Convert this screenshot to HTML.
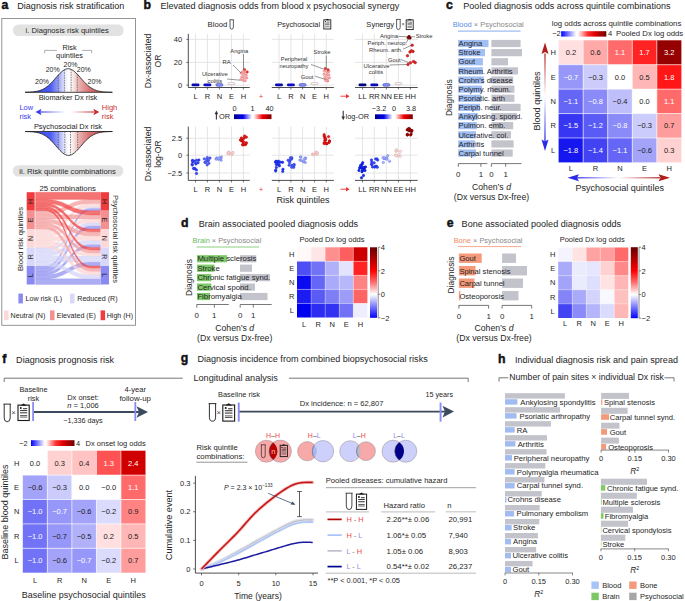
<!DOCTYPE html>
<html><head><meta charset="utf-8"><style>
html,body{margin:0;padding:0;background:#fff;}
body{width:685px;height:601px;overflow:hidden;}
svg{display:block;}
</style></head><body>
<svg width="685" height="601" viewBox="0 0 685 601" font-family='"Liberation Sans", sans-serif'>
<rect width="685" height="601" fill="#fff"/>
<text x="1.50" y="9.30" font-size="12.3" text-anchor="start" fill="#111" font-weight="bold" stroke="#111" stroke-width="0.45">a</text>
<text x="17.30" y="9.30" font-size="9.05" text-anchor="start" fill="#1e1e1e" font-weight="normal" >Diagnosis risk stratification</text>
<text x="143.60" y="9.30" font-size="12.3" text-anchor="start" fill="#111" font-weight="bold" stroke="#111" stroke-width="0.45">b</text>
<text x="160.40" y="9.30" font-size="9.05" text-anchor="start" fill="#1e1e1e" font-weight="normal" >Elevated diagnosis odds from blood x psychosocial synergy</text>
<text x="446.00" y="9.30" font-size="12.3" text-anchor="start" fill="#111" font-weight="bold" stroke="#111" stroke-width="0.45">c</text>
<text x="463.30" y="9.30" font-size="9.05" text-anchor="start" fill="#1e1e1e" font-weight="normal" >Pooled diagnosis odds across quintile combinations</text>
<text x="181.00" y="227.00" font-size="12.3" text-anchor="start" fill="#111" font-weight="bold" stroke="#111" stroke-width="0.45">d</text>
<text x="198.70" y="227.00" font-size="9.05" text-anchor="start" fill="#1e1e1e" font-weight="normal" >Brain associated pooled diagnosis odds</text>
<text x="446.80" y="226.60" font-size="12.3" text-anchor="start" fill="#111" font-weight="bold" stroke="#111" stroke-width="0.45">e</text>
<text x="461.60" y="226.60" font-size="9.05" text-anchor="start" fill="#1e1e1e" font-weight="normal" >Bone associated pooled diagnosis odds</text>
<text x="2.30" y="362.80" font-size="12.3" text-anchor="start" fill="#111" font-weight="bold" stroke="#111" stroke-width="0.45">f</text>
<text x="16.10" y="362.80" font-size="9.05" text-anchor="start" fill="#1e1e1e" font-weight="normal" >Diagnosis prognosis risk</text>
<text x="180.80" y="362.30" font-size="12.3" text-anchor="start" fill="#111" font-weight="bold" stroke="#111" stroke-width="0.45">g</text>
<text x="197.40" y="362.30" font-size="9.05" text-anchor="start" fill="#1e1e1e" font-weight="normal" >Diagnosis incidence from combined biopsychosocial risks</text>
<text x="498.00" y="362.70" font-size="12.3" text-anchor="start" fill="#111" font-weight="bold" stroke="#111" stroke-width="0.45">h</text>
<text x="515.00" y="362.70" font-size="9.05" text-anchor="start" fill="#1e1e1e" font-weight="normal" >Individual diagnosis risk and pain spread</text>
<rect x="1.8" y="18.5" width="133.7" height="306.8" fill="none" stroke="#8a8a8a" stroke-width="0.9"/>
<rect x="12.9" y="24.6" width="110.7" height="11.4" rx="5.5" fill="#e2e2e2"/>
<text x="67.20" y="33.20" font-size="7.6" text-anchor="middle" fill="#262626" font-weight="normal" >i. Diagnosis risk quintiles</text>
<text x="69.50" y="49.70" font-size="7.3" text-anchor="middle" fill="#262626" font-weight="normal" >Risk</text>
<text x="69.50" y="58.20" font-size="7.3" text-anchor="middle" fill="#262626" font-weight="normal" >quintiles</text>
<path d="M44.6,53.2 V50.4 H57 M82,50.4 H91.6 V53.2" fill="none" stroke="#999" stroke-width="0.8" />
<defs><linearGradient id="bellg" x1="25" x2="112.4" y1="0" y2="0" gradientUnits="userSpaceOnUse"><stop offset="0" stop-color="#3a4af2"/><stop offset="0.29" stop-color="#4a5af2"/><stop offset="0.38" stop-color="#9aa2f6"/><stop offset="0.45" stop-color="#e4e6fc"/><stop offset="0.5" stop-color="#ffffff"/><stop offset="0.55" stop-color="#f8eaea"/><stop offset="0.62" stop-color="#eab0b0"/><stop offset="0.74" stop-color="#d87272"/><stop offset="1" stop-color="#c83c3c"/></linearGradient><linearGradient id="arrb" x1="66" x2="36" y1="0" y2="0" gradientUnits="userSpaceOnUse"><stop offset="0" stop-color="#3b3bf0" stop-opacity="0"/><stop offset="1" stop-color="#3b3bf0"/></linearGradient><linearGradient id="arrr" x1="71" x2="99" y1="0" y2="0" gradientUnits="userSpaceOnUse"><stop offset="0" stop-color="#c82828" stop-opacity="0"/><stop offset="1" stop-color="#c82828"/></linearGradient></defs>
<path d="M25.00,92.24 L26.46,92.21 L27.91,92.17 L29.37,92.11 L30.83,92.03 L32.28,91.92 L33.74,91.77 L35.20,91.58 L36.65,91.32 L38.11,91.00 L39.57,90.59 L41.02,90.08 L42.48,89.46 L43.94,88.71 L45.39,87.83 L46.85,86.81 L48.31,85.65 L49.76,84.35 L51.22,82.92 L52.68,81.39 L54.13,79.77 L55.59,78.11 L57.05,76.45 L58.50,74.83 L59.96,73.31 L61.42,71.93 L62.87,70.75 L64.33,69.80 L65.79,69.14 L67.24,68.77 L68.70,68.72 L70.16,68.99 L71.61,69.56 L73.07,70.42 L74.53,71.54 L75.98,72.86 L77.44,74.34 L78.90,75.94 L80.35,77.59 L81.81,79.25 L83.27,80.89 L84.72,82.45 L86.18,83.91 L87.64,85.25 L89.09,86.46 L90.55,87.53 L92.01,88.45 L93.46,89.24 L94.92,89.90 L96.38,90.44 L97.83,90.88 L99.29,91.23 L100.75,91.50 L102.20,91.72 L103.66,91.88 L105.12,92.00 L106.57,92.09 L108.03,92.15 L109.49,92.20 L110.94,92.23 L112.40,92.25 Z" fill="url(#bellg)" stroke="none" stroke-width="0.8" />
<path d="M25.00,92.24 L26.46,92.21 L27.91,92.17 L29.37,92.11 L30.83,92.03 L32.28,91.92 L33.74,91.77 L35.20,91.58 L36.65,91.32 L38.11,91.00 L39.57,90.59 L41.02,90.08 L42.48,89.46 L43.94,88.71 L45.39,87.83 L46.85,86.81 L48.31,85.65 L49.76,84.35 L51.22,82.92 L52.68,81.39 L54.13,79.77 L55.59,78.11 L57.05,76.45 L58.50,74.83 L59.96,73.31 L61.42,71.93 L62.87,70.75 L64.33,69.80 L65.79,69.14 L67.24,68.77 L68.70,68.72 L70.16,68.99 L71.61,69.56 L73.07,70.42 L74.53,71.54 L75.98,72.86 L77.44,74.34 L78.90,75.94 L80.35,77.59 L81.81,79.25 L83.27,80.89 L84.72,82.45 L86.18,83.91 L87.64,85.25 L89.09,86.46 L90.55,87.53 L92.01,88.45 L93.46,89.24 L94.92,89.90 L96.38,90.44 L97.83,90.88 L99.29,91.23 L100.75,91.50 L102.20,91.72 L103.66,91.88 L105.12,92.00 L106.57,92.09 L108.03,92.15 L109.49,92.20 L110.94,92.23 L112.40,92.25" fill="none" stroke="#1a1a1a" stroke-width="0.8" />
<line x1="25.00" y1="92.30" x2="112.40" y2="92.30" stroke="#1a1a1a" stroke-width="0.8" />
<line x1="58.20" y1="75.16" x2="58.20" y2="92.30" stroke="#333" stroke-width="0.6" stroke-dasharray="1.5,1"/>
<line x1="64.40" y1="69.77" x2="64.40" y2="92.30" stroke="#333" stroke-width="0.6" stroke-dasharray="1.5,1"/>
<line x1="71.10" y1="69.33" x2="71.10" y2="92.30" stroke="#333" stroke-width="0.6" stroke-dasharray="1.5,1"/>
<line x1="77.30" y1="74.19" x2="77.30" y2="92.30" stroke="#333" stroke-width="0.6" stroke-dasharray="1.5,1"/>
<text x="42.00" y="84.40" font-size="7.0" text-anchor="middle" fill="#262626" font-weight="normal" >20%</text>
<text x="52.70" y="72.40" font-size="7.0" text-anchor="middle" fill="#262626" font-weight="normal" >20%</text>
<text x="70.50" y="67.00" font-size="7.0" text-anchor="middle" fill="#262626" font-weight="normal" >20%</text>
<text x="83.80" y="72.40" font-size="7.0" text-anchor="middle" fill="#262626" font-weight="normal" >20%</text>
<text x="94.50" y="84.40" font-size="7.0" text-anchor="middle" fill="#262626" font-weight="normal" >20%</text>
<text x="68.00" y="100.40" font-size="7.45" text-anchor="middle" fill="#262626" font-weight="normal" >Biomarker Dx risk</text>
<text x="19.40" y="110.00" font-size="7.5" text-anchor="start" fill="#3b3bf0" font-weight="normal" >Low</text>
<text x="19.40" y="118.80" font-size="7.5" text-anchor="start" fill="#3b3bf0" font-weight="normal" >risk</text>
<text x="101.80" y="110.00" font-size="7.5" text-anchor="start" fill="#c83030" font-weight="normal" >High</text>
<text x="101.80" y="118.80" font-size="7.5" text-anchor="start" fill="#c83030" font-weight="normal" >risk</text>
<line x1="40.00" y1="112.00" x2="66.00" y2="112.00" stroke="url(#arrb)" stroke-width="1.4" />
<path d="M35.5,112 L41.5,108.8 L40.2,112 L41.5,115.2 Z" fill="#3b3bf0" stroke="none" stroke-width="0.8" />
<line x1="71.00" y1="112.00" x2="94.00" y2="112.00" stroke="url(#arrr)" stroke-width="1.4" />
<path d="M99.3,112 L93.3,108.8 L94.6,112 L93.3,115.2 Z" fill="#c82828" stroke="none" stroke-width="0.8" />
<text x="68.00" y="129.00" font-size="7.45" text-anchor="middle" fill="#262626" font-weight="normal" >Psychosocial Dx risk</text>
<path d="M25.00,131.56 L26.46,131.58 L27.91,131.62 L29.37,131.68 L30.83,131.75 L32.28,131.86 L33.74,132.00 L35.20,132.19 L36.65,132.43 L38.11,132.74 L39.57,133.14 L41.02,133.63 L42.48,134.24 L43.94,134.97 L45.39,135.83 L46.85,136.83 L48.31,137.98 L49.76,139.27 L51.22,140.69 L52.68,142.23 L54.13,143.85 L55.59,145.52 L57.05,147.21 L58.50,148.86 L59.96,150.43 L61.42,151.85 L62.87,153.10 L64.33,154.11 L65.79,154.84 L67.24,155.28 L68.70,155.40 L70.16,155.19 L71.61,154.67 L73.07,153.85 L74.53,152.78 L75.98,151.48 L77.44,150.01 L78.90,148.41 L80.35,146.75 L81.81,145.06 L83.27,143.39 L84.72,141.79 L86.18,140.29 L87.64,138.90 L89.09,137.65 L90.55,136.54 L92.01,135.58 L93.46,134.75 L94.92,134.06 L96.38,133.49 L97.83,133.02 L99.29,132.65 L100.75,132.36 L102.20,132.13 L103.66,131.96 L105.12,131.83 L106.57,131.73 L108.03,131.66 L109.49,131.61 L110.94,131.57 L112.40,131.55 Z" fill="url(#bellg)" stroke="none" stroke-width="0.8" />
<path d="M25.00,131.56 L26.46,131.58 L27.91,131.62 L29.37,131.68 L30.83,131.75 L32.28,131.86 L33.74,132.00 L35.20,132.19 L36.65,132.43 L38.11,132.74 L39.57,133.14 L41.02,133.63 L42.48,134.24 L43.94,134.97 L45.39,135.83 L46.85,136.83 L48.31,137.98 L49.76,139.27 L51.22,140.69 L52.68,142.23 L54.13,143.85 L55.59,145.52 L57.05,147.21 L58.50,148.86 L59.96,150.43 L61.42,151.85 L62.87,153.10 L64.33,154.11 L65.79,154.84 L67.24,155.28 L68.70,155.40 L70.16,155.19 L71.61,154.67 L73.07,153.85 L74.53,152.78 L75.98,151.48 L77.44,150.01 L78.90,148.41 L80.35,146.75 L81.81,145.06 L83.27,143.39 L84.72,141.79 L86.18,140.29 L87.64,138.90 L89.09,137.65 L90.55,136.54 L92.01,135.58 L93.46,134.75 L94.92,134.06 L96.38,133.49 L97.83,133.02 L99.29,132.65 L100.75,132.36 L102.20,132.13 L103.66,131.96 L105.12,131.83 L106.57,131.73 L108.03,131.66 L109.49,131.61 L110.94,131.57 L112.40,131.55" fill="none" stroke="#1a1a1a" stroke-width="0.8" />
<line x1="25.00" y1="131.50" x2="112.40" y2="131.50" stroke="#1a1a1a" stroke-width="0.8" />
<line x1="58.20" y1="131.50" x2="58.20" y2="148.52" stroke="#333" stroke-width="0.6" stroke-dasharray="1.5,1"/>
<line x1="64.80" y1="131.50" x2="64.80" y2="154.38" stroke="#333" stroke-width="0.6" stroke-dasharray="1.5,1"/>
<line x1="70.50" y1="131.50" x2="70.50" y2="155.10" stroke="#333" stroke-width="0.6" stroke-dasharray="1.5,1"/>
<line x1="77.70" y1="131.50" x2="77.70" y2="149.73" stroke="#333" stroke-width="0.6" stroke-dasharray="1.5,1"/>
<rect x="12.9" y="165.2" width="110.4" height="11.3" rx="5.5" fill="#e2e2e2"/>
<text x="67.60" y="173.80" font-size="7.7" text-anchor="middle" fill="#262626" font-weight="normal" >ii. Risk quintile combinations</text>
<text x="67.60" y="190.50" font-size="7.75" text-anchor="middle" fill="#262626" font-weight="normal" >25 combinations</text>
<path d="M35.6,266.04 L45.0,266.04 C68.0,266.04 68.0,208.23 91.0,208.23 L100.4,208.23 L100.4,210.66 L91.0,210.66 C68.0,210.66 68.0,268.47 45.0,268.47 L35.6,268.47 Z" fill="#8e8ef0" stroke="#8e8ef0" stroke-width="0.35" fill-opacity="0.72" stroke-opacity="0.72"/>
<path d="M35.6,268.47 L45.0,268.47 C68.0,268.47 68.0,225.65 91.0,225.65 L100.4,225.65 L100.4,229.12 L91.0,229.12 C68.0,229.12 68.0,271.94 45.0,271.94 L35.6,271.94 Z" fill="#8e8ef0" stroke="#8e8ef0" stroke-width="0.35" fill-opacity="0.72" stroke-opacity="0.72"/>
<path d="M35.6,271.94 L45.0,271.94 C68.0,271.94 68.0,244.59 91.0,244.59 L100.4,244.59 L100.4,247.58 L91.0,247.58 C68.0,247.58 68.0,274.93 45.0,274.93 L35.6,274.93 Z" fill="#8e8ef0" stroke="#8e8ef0" stroke-width="0.35" fill-opacity="0.72" stroke-opacity="0.72"/>
<path d="M35.6,274.93 L45.0,274.93 C68.0,274.93 68.0,262.12 91.0,262.12 L100.4,262.12 L100.4,266.04 L91.0,266.04 C68.0,266.04 68.0,278.85 45.0,278.85 L35.6,278.85 Z" fill="#8e8ef0" stroke="#8e8ef0" stroke-width="0.35" fill-opacity="0.72" stroke-opacity="0.72"/>
<path d="M35.6,278.85 L45.0,278.85 C68.0,278.85 68.0,278.85 91.0,278.85 L100.4,278.85 L100.4,284.50 L91.0,284.50 C68.0,284.50 68.0,284.50 45.0,284.50 L35.6,284.50 Z" fill="#8e8ef0" stroke="#8e8ef0" stroke-width="0.35" fill-opacity="0.72" stroke-opacity="0.72"/>
<path d="M35.6,247.58 L45.0,247.58 C68.0,247.58 68.0,207.16 91.0,207.16 L100.4,207.16 L100.4,208.23 L91.0,208.23 C68.0,208.23 68.0,248.65 45.0,248.65 L35.6,248.65 Z" fill="#d2d2f8" stroke="#d2d2f8" stroke-width="0.35" fill-opacity="0.72" stroke-opacity="0.72"/>
<path d="M35.6,248.65 L45.0,248.65 C68.0,248.65 68.0,222.73 91.0,222.73 L100.4,222.73 L100.4,225.65 L91.0,225.65 C68.0,225.65 68.0,251.56 45.0,251.56 L35.6,251.56 Z" fill="#d2d2f8" stroke="#d2d2f8" stroke-width="0.35" fill-opacity="0.72" stroke-opacity="0.72"/>
<path d="M35.6,251.56 L45.0,251.56 C68.0,251.56 68.0,240.37 91.0,240.37 L100.4,240.37 L100.4,244.59 L91.0,244.59 C68.0,244.59 68.0,255.78 45.0,255.78 L35.6,255.78 Z" fill="#d2d2f8" stroke="#d2d2f8" stroke-width="0.35" fill-opacity="0.72" stroke-opacity="0.72"/>
<path d="M35.6,255.78 L45.0,255.78 C68.0,255.78 68.0,256.00 91.0,256.00 L100.4,256.00 L100.4,262.12 L91.0,262.12 C68.0,262.12 68.0,261.91 45.0,261.91 L35.6,261.91 Z" fill="#d2d2f8" stroke="#d2d2f8" stroke-width="0.35" fill-opacity="0.72" stroke-opacity="0.72"/>
<path d="M35.6,261.91 L45.0,261.91 C68.0,261.91 68.0,274.72 91.0,274.72 L100.4,274.72 L100.4,278.85 L91.0,278.85 C68.0,278.85 68.0,266.04 45.0,266.04 L35.6,266.04 Z" fill="#d2d2f8" stroke="#d2d2f8" stroke-width="0.35" fill-opacity="0.72" stroke-opacity="0.72"/>
<path d="M35.6,229.12 L45.0,229.12 C68.0,229.12 68.0,203.51 91.0,203.51 L100.4,203.51 L100.4,207.16 L91.0,207.16 C68.0,207.16 68.0,232.77 45.0,232.77 L35.6,232.77 Z" fill="#fbd2d2" stroke="#fbd2d2" stroke-width="0.35" fill-opacity="0.72" stroke-opacity="0.72"/>
<path d="M35.6,232.77 L45.0,232.77 C68.0,232.77 68.0,218.99 91.0,218.99 L100.4,218.99 L100.4,222.73 L91.0,222.73 C68.0,222.73 68.0,236.51 45.0,236.51 L35.6,236.51 Z" fill="#fbd2d2" stroke="#fbd2d2" stroke-width="0.35" fill-opacity="0.72" stroke-opacity="0.72"/>
<path d="M35.6,236.51 L45.0,236.51 C68.0,236.51 68.0,235.84 91.0,235.84 L100.4,235.84 L100.4,240.37 L91.0,240.37 C68.0,240.37 68.0,241.04 45.0,241.04 L35.6,241.04 Z" fill="#fbd2d2" stroke="#fbd2d2" stroke-width="0.35" fill-opacity="0.72" stroke-opacity="0.72"/>
<path d="M35.6,241.04 L45.0,241.04 C68.0,241.04 68.0,253.00 91.0,253.00 L100.4,253.00 L100.4,256.00 L91.0,256.00 C68.0,256.00 68.0,244.04 45.0,244.04 L35.6,244.04 Z" fill="#fbd2d2" stroke="#fbd2d2" stroke-width="0.35" fill-opacity="0.72" stroke-opacity="0.72"/>
<path d="M35.6,244.04 L45.0,244.04 C68.0,244.04 68.0,271.18 91.0,271.18 L100.4,271.18 L100.4,274.72 L91.0,274.72 C68.0,274.72 68.0,247.58 45.0,247.58 L35.6,247.58 Z" fill="#fbd2d2" stroke="#fbd2d2" stroke-width="0.35" fill-opacity="0.72" stroke-opacity="0.72"/>
<path d="M35.6,210.66 L45.0,210.66 C68.0,210.66 68.0,199.38 91.0,199.38 L100.4,199.38 L100.4,203.51 L91.0,203.51 C68.0,203.51 68.0,214.79 45.0,214.79 L35.6,214.79 Z" fill="#f49a9a" stroke="#f49a9a" stroke-width="0.35" fill-opacity="0.72" stroke-opacity="0.72"/>
<path d="M35.6,214.79 L45.0,214.79 C68.0,214.79 68.0,214.90 91.0,214.90 L100.4,214.90 L100.4,218.99 L91.0,218.99 C68.0,218.99 68.0,218.89 45.0,218.89 L35.6,218.89 Z" fill="#f49a9a" stroke="#f49a9a" stroke-width="0.35" fill-opacity="0.72" stroke-opacity="0.72"/>
<path d="M35.6,218.89 L45.0,218.89 C68.0,218.89 68.0,231.81 91.0,231.81 L100.4,231.81 L100.4,235.84 L91.0,235.84 C68.0,235.84 68.0,222.91 45.0,222.91 L35.6,222.91 Z" fill="#f49a9a" stroke="#f49a9a" stroke-width="0.35" fill-opacity="0.72" stroke-opacity="0.72"/>
<path d="M35.6,222.91 L45.0,222.91 C68.0,222.91 68.0,249.93 91.0,249.93 L100.4,249.93 L100.4,253.00 L91.0,253.00 C68.0,253.00 68.0,225.98 45.0,225.98 L35.6,225.98 Z" fill="#f49a9a" stroke="#f49a9a" stroke-width="0.35" fill-opacity="0.72" stroke-opacity="0.72"/>
<path d="M35.6,225.98 L45.0,225.98 C68.0,225.98 68.0,268.04 91.0,268.04 L100.4,268.04 L100.4,271.18 L91.0,271.18 C68.0,271.18 68.0,229.12 45.0,229.12 L35.6,229.12 Z" fill="#f49a9a" stroke="#f49a9a" stroke-width="0.35" fill-opacity="0.72" stroke-opacity="0.72"/>
<path d="M35.6,192.20 L45.0,192.20 C68.0,192.20 68.0,192.20 91.0,192.20 L100.4,192.20 L100.4,199.38 L91.0,199.38 C68.0,199.38 68.0,199.38 45.0,199.38 L35.6,199.38 Z" fill="#f03e3e" stroke="#f03e3e" stroke-width="0.35" fill-opacity="0.72" stroke-opacity="0.72"/>
<path d="M35.6,199.38 L45.0,199.38 C68.0,199.38 68.0,210.66 91.0,210.66 L100.4,210.66 L100.4,214.90 L91.0,214.90 C68.0,214.90 68.0,203.61 45.0,203.61 L35.6,203.61 Z" fill="#f03e3e" stroke="#f03e3e" stroke-width="0.35" fill-opacity="0.72" stroke-opacity="0.72"/>
<path d="M35.6,203.61 L45.0,203.61 C68.0,203.61 68.0,229.12 91.0,229.12 L100.4,229.12 L100.4,231.81 L91.0,231.81 C68.0,231.81 68.0,206.31 45.0,206.31 L35.6,206.31 Z" fill="#f03e3e" stroke="#f03e3e" stroke-width="0.35" fill-opacity="0.72" stroke-opacity="0.72"/>
<path d="M35.6,206.31 L45.0,206.31 C68.0,206.31 68.0,247.58 91.0,247.58 L100.4,247.58 L100.4,249.93 L91.0,249.93 C68.0,249.93 68.0,208.66 45.0,208.66 L35.6,208.66 Z" fill="#f03e3e" stroke="#f03e3e" stroke-width="0.35" fill-opacity="0.72" stroke-opacity="0.72"/>
<path d="M35.6,208.66 L45.0,208.66 C68.0,208.66 68.0,266.04 91.0,266.04 L100.4,266.04 L100.4,268.04 L91.0,268.04 C68.0,268.04 68.0,210.66 45.0,210.66 L35.6,210.66 Z" fill="#f03e3e" stroke="#f03e3e" stroke-width="0.35" fill-opacity="0.72" stroke-opacity="0.72"/>
<rect x="26.70" y="192.20" width="8.00" height="18.46" fill="#f03c3c" />
<rect x="100.70" y="192.20" width="8.30" height="18.46" fill="#f03c3c" />
<text x="30.70" y="201.43" font-size="7.0" text-anchor="middle" fill="#262626" font-weight="normal" transform="rotate(-90 30.7 201.43)" dy="2.5">H</text>
<text x="104.85" y="201.43" font-size="7.0" text-anchor="middle" fill="#262626" font-weight="normal" transform="rotate(90 104.85 201.43)" dy="2.5">H</text>
<rect x="26.70" y="210.66" width="8.00" height="18.46" fill="#f49090" />
<rect x="100.70" y="210.66" width="8.30" height="18.46" fill="#f49090" />
<text x="30.70" y="219.89" font-size="7.0" text-anchor="middle" fill="#262626" font-weight="normal" transform="rotate(-90 30.7 219.89)" dy="2.5">E</text>
<text x="104.85" y="219.89" font-size="7.0" text-anchor="middle" fill="#262626" font-weight="normal" transform="rotate(90 104.85 219.89)" dy="2.5">E</text>
<rect x="26.70" y="229.12" width="8.00" height="18.46" fill="#fcd8d8" />
<rect x="100.70" y="229.12" width="8.30" height="18.46" fill="#fcd8d8" />
<text x="30.70" y="238.35" font-size="7.0" text-anchor="middle" fill="#262626" font-weight="normal" transform="rotate(-90 30.7 238.35)" dy="2.5">N</text>
<text x="104.85" y="238.35" font-size="7.0" text-anchor="middle" fill="#262626" font-weight="normal" transform="rotate(90 104.85 238.35)" dy="2.5">N</text>
<rect x="26.70" y="247.58" width="8.00" height="18.46" fill="#d8d8fa" />
<rect x="100.70" y="247.58" width="8.30" height="18.46" fill="#d8d8fa" />
<text x="30.70" y="256.81" font-size="7.0" text-anchor="middle" fill="#262626" font-weight="normal" transform="rotate(-90 30.7 256.81)" dy="2.5">R</text>
<text x="104.85" y="256.81" font-size="7.0" text-anchor="middle" fill="#262626" font-weight="normal" transform="rotate(90 104.85 256.81)" dy="2.5">R</text>
<rect x="26.70" y="266.04" width="8.00" height="18.46" fill="#8a8af2" />
<rect x="100.70" y="266.04" width="8.30" height="18.46" fill="#8a8af2" />
<text x="30.70" y="275.27" font-size="7.0" text-anchor="middle" fill="#262626" font-weight="normal" transform="rotate(-90 30.7 275.27)" dy="2.5">L</text>
<text x="104.85" y="275.27" font-size="7.0" text-anchor="middle" fill="#262626" font-weight="normal" transform="rotate(90 104.85 275.27)" dy="2.5">L</text>
<text x="20.40" y="239.00" font-size="7.7" text-anchor="middle" fill="#262626" font-weight="normal" transform="rotate(-90 20.4 239)" dy="2.6">Blood risk quintiles</text>
<text x="115.30" y="239.00" font-size="7.6" text-anchor="middle" fill="#262626" font-weight="normal" transform="rotate(90 115.3 239)" dy="2.6">Psychosocial risk quintiles</text>
<rect x="18.40" y="293.60" width="4.50" height="9.80" fill="#8a8af2" />
<text x="25.50" y="301.20" font-size="7.1" text-anchor="start" fill="#262626" font-weight="normal" >Low risk (L)</text>
<rect x="70.00" y="293.60" width="4.50" height="9.80" fill="#d8d8fa" />
<text x="77.30" y="301.20" font-size="7.1" text-anchor="start" fill="#262626" font-weight="normal" >Reduced (R)</text>
<rect x="4.00" y="310.40" width="4.50" height="9.80" fill="#fcd8d8" />
<text x="10.60" y="318.00" font-size="7.1" text-anchor="start" fill="#262626" font-weight="normal" >Neutral (N)</text>
<rect x="50.00" y="310.40" width="4.50" height="9.80" fill="#f49090" />
<text x="56.80" y="318.00" font-size="7.1" text-anchor="start" fill="#262626" font-weight="normal" >Elevated (E)</text>
<rect x="100.60" y="310.40" width="4.50" height="9.80" fill="#f03c3c" />
<text x="106.70" y="318.00" font-size="7.1" text-anchor="start" fill="#262626" font-weight="normal" >High (H)</text>
<line x1="188.30" y1="39.40" x2="249.80" y2="39.40" stroke="#dedede" stroke-width="0.8" />
<line x1="188.30" y1="62.40" x2="249.80" y2="62.40" stroke="#dedede" stroke-width="0.8" />
<line x1="188.30" y1="85.10" x2="249.80" y2="85.10" stroke="#dedede" stroke-width="0.8" />
<line x1="195.50" y1="33.80" x2="195.50" y2="87.50" stroke="#dedede" stroke-width="0.8" />
<line x1="207.40" y1="33.80" x2="207.40" y2="87.50" stroke="#dedede" stroke-width="0.8" />
<line x1="219.40" y1="33.80" x2="219.40" y2="87.50" stroke="#dedede" stroke-width="0.8" />
<line x1="231.50" y1="33.80" x2="231.50" y2="87.50" stroke="#dedede" stroke-width="0.8" />
<line x1="243.40" y1="33.80" x2="243.40" y2="87.50" stroke="#dedede" stroke-width="0.8" />
<line x1="188.30" y1="87.50" x2="249.80" y2="87.50" stroke="#3a3a3a" stroke-width="0.9" />
<line x1="195.50" y1="87.50" x2="195.50" y2="89.50" stroke="#3a3a3a" stroke-width="0.7" />
<line x1="207.40" y1="87.50" x2="207.40" y2="89.50" stroke="#3a3a3a" stroke-width="0.7" />
<line x1="219.40" y1="87.50" x2="219.40" y2="89.50" stroke="#3a3a3a" stroke-width="0.7" />
<line x1="231.50" y1="87.50" x2="231.50" y2="89.50" stroke="#3a3a3a" stroke-width="0.7" />
<line x1="243.40" y1="87.50" x2="243.40" y2="89.50" stroke="#3a3a3a" stroke-width="0.7" />
<line x1="188.30" y1="33.80" x2="188.30" y2="87.50" stroke="#3a3a3a" stroke-width="0.9" />
<line x1="186.30" y1="39.40" x2="188.30" y2="39.40" stroke="#3a3a3a" stroke-width="0.7" />
<line x1="186.30" y1="62.40" x2="188.30" y2="62.40" stroke="#3a3a3a" stroke-width="0.7" />
<line x1="186.30" y1="85.10" x2="188.30" y2="85.10" stroke="#3a3a3a" stroke-width="0.7" />
<line x1="188.30" y1="138.20" x2="249.80" y2="138.20" stroke="#dedede" stroke-width="0.8" />
<line x1="188.30" y1="155.20" x2="249.80" y2="155.20" stroke="#dedede" stroke-width="0.8" />
<line x1="188.30" y1="173.00" x2="249.80" y2="173.00" stroke="#dedede" stroke-width="0.8" />
<line x1="195.50" y1="126.60" x2="195.50" y2="180.40" stroke="#dedede" stroke-width="0.8" />
<line x1="207.40" y1="126.60" x2="207.40" y2="180.40" stroke="#dedede" stroke-width="0.8" />
<line x1="219.40" y1="126.60" x2="219.40" y2="180.40" stroke="#dedede" stroke-width="0.8" />
<line x1="231.50" y1="126.60" x2="231.50" y2="180.40" stroke="#dedede" stroke-width="0.8" />
<line x1="243.40" y1="126.60" x2="243.40" y2="180.40" stroke="#dedede" stroke-width="0.8" />
<line x1="188.30" y1="180.40" x2="249.80" y2="180.40" stroke="#3a3a3a" stroke-width="0.9" />
<line x1="195.50" y1="180.40" x2="195.50" y2="182.40" stroke="#3a3a3a" stroke-width="0.7" />
<line x1="207.40" y1="180.40" x2="207.40" y2="182.40" stroke="#3a3a3a" stroke-width="0.7" />
<line x1="219.40" y1="180.40" x2="219.40" y2="182.40" stroke="#3a3a3a" stroke-width="0.7" />
<line x1="231.50" y1="180.40" x2="231.50" y2="182.40" stroke="#3a3a3a" stroke-width="0.7" />
<line x1="243.40" y1="180.40" x2="243.40" y2="182.40" stroke="#3a3a3a" stroke-width="0.7" />
<line x1="188.30" y1="126.60" x2="188.30" y2="180.40" stroke="#3a3a3a" stroke-width="0.9" />
<line x1="186.30" y1="138.20" x2="188.30" y2="138.20" stroke="#3a3a3a" stroke-width="0.7" />
<line x1="186.30" y1="155.20" x2="188.30" y2="155.20" stroke="#3a3a3a" stroke-width="0.7" />
<line x1="186.30" y1="173.00" x2="188.30" y2="173.00" stroke="#3a3a3a" stroke-width="0.7" />
<text x="195.50" y="99.00" font-size="7.5" text-anchor="middle" fill="#262626" font-weight="normal" >L</text>
<text x="195.50" y="192.00" font-size="7.5" text-anchor="middle" fill="#262626" font-weight="normal" >L</text>
<text x="207.40" y="99.00" font-size="7.5" text-anchor="middle" fill="#262626" font-weight="normal" >R</text>
<text x="207.40" y="192.00" font-size="7.5" text-anchor="middle" fill="#262626" font-weight="normal" >R</text>
<text x="219.40" y="99.00" font-size="7.5" text-anchor="middle" fill="#262626" font-weight="normal" >N</text>
<text x="219.40" y="192.00" font-size="7.5" text-anchor="middle" fill="#262626" font-weight="normal" >N</text>
<text x="231.50" y="99.00" font-size="7.5" text-anchor="middle" fill="#262626" font-weight="normal" >E</text>
<text x="231.50" y="192.00" font-size="7.5" text-anchor="middle" fill="#262626" font-weight="normal" >E</text>
<text x="243.40" y="99.00" font-size="7.5" text-anchor="middle" fill="#262626" font-weight="normal" >H</text>
<text x="243.40" y="192.00" font-size="7.5" text-anchor="middle" fill="#262626" font-weight="normal" >H</text>
<line x1="271.80" y1="39.40" x2="333.90" y2="39.40" stroke="#dedede" stroke-width="0.8" />
<line x1="271.80" y1="62.40" x2="333.90" y2="62.40" stroke="#dedede" stroke-width="0.8" />
<line x1="271.80" y1="85.10" x2="333.90" y2="85.10" stroke="#dedede" stroke-width="0.8" />
<line x1="279.00" y1="33.80" x2="279.00" y2="87.50" stroke="#dedede" stroke-width="0.8" />
<line x1="290.90" y1="33.80" x2="290.90" y2="87.50" stroke="#dedede" stroke-width="0.8" />
<line x1="302.60" y1="33.80" x2="302.60" y2="87.50" stroke="#dedede" stroke-width="0.8" />
<line x1="314.60" y1="33.80" x2="314.60" y2="87.50" stroke="#dedede" stroke-width="0.8" />
<line x1="326.30" y1="33.80" x2="326.30" y2="87.50" stroke="#dedede" stroke-width="0.8" />
<line x1="271.80" y1="87.50" x2="333.90" y2="87.50" stroke="#3a3a3a" stroke-width="0.9" />
<line x1="279.00" y1="87.50" x2="279.00" y2="89.50" stroke="#3a3a3a" stroke-width="0.7" />
<line x1="290.90" y1="87.50" x2="290.90" y2="89.50" stroke="#3a3a3a" stroke-width="0.7" />
<line x1="302.60" y1="87.50" x2="302.60" y2="89.50" stroke="#3a3a3a" stroke-width="0.7" />
<line x1="314.60" y1="87.50" x2="314.60" y2="89.50" stroke="#3a3a3a" stroke-width="0.7" />
<line x1="326.30" y1="87.50" x2="326.30" y2="89.50" stroke="#3a3a3a" stroke-width="0.7" />
<line x1="271.80" y1="138.20" x2="333.90" y2="138.20" stroke="#dedede" stroke-width="0.8" />
<line x1="271.80" y1="155.20" x2="333.90" y2="155.20" stroke="#dedede" stroke-width="0.8" />
<line x1="271.80" y1="173.00" x2="333.90" y2="173.00" stroke="#dedede" stroke-width="0.8" />
<line x1="279.00" y1="126.60" x2="279.00" y2="180.40" stroke="#dedede" stroke-width="0.8" />
<line x1="290.90" y1="126.60" x2="290.90" y2="180.40" stroke="#dedede" stroke-width="0.8" />
<line x1="302.60" y1="126.60" x2="302.60" y2="180.40" stroke="#dedede" stroke-width="0.8" />
<line x1="314.60" y1="126.60" x2="314.60" y2="180.40" stroke="#dedede" stroke-width="0.8" />
<line x1="326.30" y1="126.60" x2="326.30" y2="180.40" stroke="#dedede" stroke-width="0.8" />
<line x1="271.80" y1="180.40" x2="333.90" y2="180.40" stroke="#3a3a3a" stroke-width="0.9" />
<line x1="279.00" y1="180.40" x2="279.00" y2="182.40" stroke="#3a3a3a" stroke-width="0.7" />
<line x1="290.90" y1="180.40" x2="290.90" y2="182.40" stroke="#3a3a3a" stroke-width="0.7" />
<line x1="302.60" y1="180.40" x2="302.60" y2="182.40" stroke="#3a3a3a" stroke-width="0.7" />
<line x1="314.60" y1="180.40" x2="314.60" y2="182.40" stroke="#3a3a3a" stroke-width="0.7" />
<line x1="326.30" y1="180.40" x2="326.30" y2="182.40" stroke="#3a3a3a" stroke-width="0.7" />
<text x="279.00" y="99.00" font-size="7.5" text-anchor="middle" fill="#262626" font-weight="normal" >L</text>
<text x="279.00" y="192.00" font-size="7.5" text-anchor="middle" fill="#262626" font-weight="normal" >L</text>
<text x="290.90" y="99.00" font-size="7.5" text-anchor="middle" fill="#262626" font-weight="normal" >R</text>
<text x="290.90" y="192.00" font-size="7.5" text-anchor="middle" fill="#262626" font-weight="normal" >R</text>
<text x="302.60" y="99.00" font-size="7.5" text-anchor="middle" fill="#262626" font-weight="normal" >N</text>
<text x="302.60" y="192.00" font-size="7.5" text-anchor="middle" fill="#262626" font-weight="normal" >N</text>
<text x="314.60" y="99.00" font-size="7.5" text-anchor="middle" fill="#262626" font-weight="normal" >E</text>
<text x="314.60" y="192.00" font-size="7.5" text-anchor="middle" fill="#262626" font-weight="normal" >E</text>
<text x="326.30" y="99.00" font-size="7.5" text-anchor="middle" fill="#262626" font-weight="normal" >H</text>
<text x="326.30" y="192.00" font-size="7.5" text-anchor="middle" fill="#262626" font-weight="normal" >H</text>
<line x1="355.00" y1="39.40" x2="417.70" y2="39.40" stroke="#dedede" stroke-width="0.8" />
<line x1="355.00" y1="62.40" x2="417.70" y2="62.40" stroke="#dedede" stroke-width="0.8" />
<line x1="355.00" y1="85.10" x2="417.70" y2="85.10" stroke="#dedede" stroke-width="0.8" />
<line x1="362.50" y1="33.80" x2="362.50" y2="87.50" stroke="#dedede" stroke-width="0.8" />
<line x1="374.30" y1="33.80" x2="374.30" y2="87.50" stroke="#dedede" stroke-width="0.8" />
<line x1="386.40" y1="33.80" x2="386.40" y2="87.50" stroke="#dedede" stroke-width="0.8" />
<line x1="398.40" y1="33.80" x2="398.40" y2="87.50" stroke="#dedede" stroke-width="0.8" />
<line x1="410.40" y1="33.80" x2="410.40" y2="87.50" stroke="#dedede" stroke-width="0.8" />
<line x1="355.00" y1="87.50" x2="417.70" y2="87.50" stroke="#3a3a3a" stroke-width="0.9" />
<line x1="362.50" y1="87.50" x2="362.50" y2="89.50" stroke="#3a3a3a" stroke-width="0.7" />
<line x1="374.30" y1="87.50" x2="374.30" y2="89.50" stroke="#3a3a3a" stroke-width="0.7" />
<line x1="386.40" y1="87.50" x2="386.40" y2="89.50" stroke="#3a3a3a" stroke-width="0.7" />
<line x1="398.40" y1="87.50" x2="398.40" y2="89.50" stroke="#3a3a3a" stroke-width="0.7" />
<line x1="410.40" y1="87.50" x2="410.40" y2="89.50" stroke="#3a3a3a" stroke-width="0.7" />
<line x1="355.00" y1="138.20" x2="417.70" y2="138.20" stroke="#dedede" stroke-width="0.8" />
<line x1="355.00" y1="155.20" x2="417.70" y2="155.20" stroke="#dedede" stroke-width="0.8" />
<line x1="355.00" y1="173.00" x2="417.70" y2="173.00" stroke="#dedede" stroke-width="0.8" />
<line x1="362.50" y1="126.60" x2="362.50" y2="180.40" stroke="#dedede" stroke-width="0.8" />
<line x1="374.30" y1="126.60" x2="374.30" y2="180.40" stroke="#dedede" stroke-width="0.8" />
<line x1="386.40" y1="126.60" x2="386.40" y2="180.40" stroke="#dedede" stroke-width="0.8" />
<line x1="398.40" y1="126.60" x2="398.40" y2="180.40" stroke="#dedede" stroke-width="0.8" />
<line x1="410.40" y1="126.60" x2="410.40" y2="180.40" stroke="#dedede" stroke-width="0.8" />
<line x1="355.00" y1="180.40" x2="417.70" y2="180.40" stroke="#3a3a3a" stroke-width="0.9" />
<line x1="362.50" y1="180.40" x2="362.50" y2="182.40" stroke="#3a3a3a" stroke-width="0.7" />
<line x1="374.30" y1="180.40" x2="374.30" y2="182.40" stroke="#3a3a3a" stroke-width="0.7" />
<line x1="386.40" y1="180.40" x2="386.40" y2="182.40" stroke="#3a3a3a" stroke-width="0.7" />
<line x1="398.40" y1="180.40" x2="398.40" y2="182.40" stroke="#3a3a3a" stroke-width="0.7" />
<line x1="410.40" y1="180.40" x2="410.40" y2="182.40" stroke="#3a3a3a" stroke-width="0.7" />
<text x="362.50" y="99.00" font-size="7.5" text-anchor="middle" fill="#262626" font-weight="normal" >LL</text>
<text x="362.50" y="192.00" font-size="7.5" text-anchor="middle" fill="#262626" font-weight="normal" >LL</text>
<text x="374.30" y="99.00" font-size="7.5" text-anchor="middle" fill="#262626" font-weight="normal" >RR</text>
<text x="374.30" y="192.00" font-size="7.5" text-anchor="middle" fill="#262626" font-weight="normal" >RR</text>
<text x="386.40" y="99.00" font-size="7.5" text-anchor="middle" fill="#262626" font-weight="normal" >NN</text>
<text x="386.40" y="192.00" font-size="7.5" text-anchor="middle" fill="#262626" font-weight="normal" >NN</text>
<text x="398.40" y="99.00" font-size="7.5" text-anchor="middle" fill="#262626" font-weight="normal" >EE</text>
<text x="398.40" y="192.00" font-size="7.5" text-anchor="middle" fill="#262626" font-weight="normal" >EE</text>
<text x="410.40" y="99.00" font-size="7.5" text-anchor="middle" fill="#262626" font-weight="normal" >HH</text>
<text x="410.40" y="192.00" font-size="7.5" text-anchor="middle" fill="#262626" font-weight="normal" >HH</text>
<text x="182.20" y="42.00" font-size="7.5" text-anchor="end" fill="#262626" font-weight="normal" >40</text>
<text x="182.20" y="65.00" font-size="7.5" text-anchor="end" fill="#262626" font-weight="normal" >20</text>
<text x="182.20" y="87.70" font-size="7.5" text-anchor="end" fill="#262626" font-weight="normal" >0</text>
<text x="182.20" y="140.80" font-size="7.5" text-anchor="end" fill="#262626" font-weight="normal" >2.5</text>
<text x="182.20" y="157.80" font-size="7.5" text-anchor="end" fill="#262626" font-weight="normal" >0</text>
<text x="182.20" y="175.60" font-size="7.5" text-anchor="end" fill="#262626" font-weight="normal" >−2.5</text>
<text x="261.00" y="99.00" font-size="7" text-anchor="middle" fill="#e83030" font-weight="normal" >+</text>
<text x="261.00" y="192.00" font-size="7" text-anchor="middle" fill="#e83030" font-weight="normal" >+</text>
<line x1="340.50" y1="96.20" x2="347.50" y2="96.20" stroke="#e83030" stroke-width="0.9" />
<path d="M349.5,96.2 L346,94.0 L346,98.4 Z" fill="#e83030" stroke="none" stroke-width="0.8" />
<line x1="340.50" y1="189.20" x2="347.50" y2="189.20" stroke="#e83030" stroke-width="0.9" />
<path d="M349.5,189.2 L346,187.0 L346,191.39999999999998 Z" fill="#e83030" stroke="none" stroke-width="0.8" />
<text x="148.20" y="61.00" font-size="8.6" text-anchor="middle" fill="#262626" font-weight="normal" transform="rotate(-90 148.2 61)" dy="2.9">Dx-associated</text>
<text x="158.40" y="61.00" font-size="8.6" text-anchor="middle" fill="#262626" font-weight="normal" transform="rotate(-90 158.4 61)" dy="2.9">OR</text>
<text x="148.20" y="154.00" font-size="8.6" text-anchor="middle" fill="#262626" font-weight="normal" transform="rotate(-90 148.2 154)" dy="2.9">Dx-associated</text>
<text x="157.80" y="154.00" font-size="8.6" text-anchor="middle" fill="#262626" font-weight="normal" transform="rotate(-90 157.8 154)" dy="2.9">log-OR</text>
<text x="303.00" y="203.00" font-size="9.0" text-anchor="middle" fill="#262626" font-weight="normal" >Risk quintiles</text>
<text x="217.40" y="27.40" font-size="7.7" text-anchor="middle" fill="#262626" font-weight="normal" >Blood</text>
<path d="M229.59,19.80 H233.81 M230.00,19.80 V26.99 Q230.00,29.20 231.70,29.20 Q233.40,29.20 233.40,26.99 V19.80" fill="none" stroke="#1a1a1a" stroke-width="0.7" stroke-linejoin="round"/>
<text x="298.60" y="27.40" font-size="7.35" text-anchor="middle" fill="#262626" font-weight="normal" >Psychosocial</text>
<rect x="323.80" y="19.82" width="7.00" height="9.18" fill="#fff" stroke="#1a1a1a" stroke-width="0.88"/>
<path d="M325.20,20.24 L327.30,18.80 L329.40,20.24 Z" fill="#1a1a1a" stroke="none" stroke-width="0.8" />
<circle cx="325.55" cy="21.55" r="0.56" fill="#111"/>
<line x1="326.95" y1="21.96" x2="329.54" y2="21.96" stroke="#222" stroke-width="0.5609999999999999" />
<line x1="325.06" y1="23.08" x2="329.54" y2="23.08" stroke="#222" stroke-width="0.5609999999999999" />
<line x1="325.06" y1="24.41" x2="329.54" y2="24.41" stroke="#222" stroke-width="0.5609999999999999" />
<line x1="325.06" y1="26.04" x2="329.54" y2="26.04" stroke="#555" stroke-width="0.5609999999999999" />
<line x1="325.06" y1="26.96" x2="329.54" y2="26.96" stroke="#555" stroke-width="0.5609999999999999" />
<text x="380.20" y="27.40" font-size="7.55" text-anchor="middle" fill="#262626" font-weight="normal" >Synergy</text>
<path d="M396.17,19.40 H400.63 M396.60,19.40 V27.26 Q396.60,29.60 398.40,29.60 Q400.20,29.60 400.20,27.26 V19.40" fill="none" stroke="#1a1a1a" stroke-width="0.7" stroke-linejoin="round"/>
<text x="403.00" y="25.80" font-size="4.5" text-anchor="middle" fill="#262626" font-weight="normal" >×</text>
<rect x="406.20" y="19.88" width="7.00" height="9.72" fill="#fff" stroke="#1a1a1a" stroke-width="0.88"/>
<path d="M407.60,20.30 L409.70,18.80 L411.80,20.30 Z" fill="#1a1a1a" stroke="none" stroke-width="0.8" />
<circle cx="407.95" cy="21.72" r="0.59" fill="#111"/>
<line x1="409.35" y1="22.15" x2="411.94" y2="22.15" stroke="#222" stroke-width="0.5940000000000001" />
<line x1="407.46" y1="23.34" x2="411.94" y2="23.34" stroke="#222" stroke-width="0.5940000000000001" />
<line x1="407.46" y1="24.74" x2="411.94" y2="24.74" stroke="#222" stroke-width="0.5940000000000001" />
<line x1="407.46" y1="26.47" x2="411.94" y2="26.47" stroke="#555" stroke-width="0.5940000000000001" />
<line x1="407.46" y1="27.44" x2="411.94" y2="27.44" stroke="#555" stroke-width="0.5940000000000001" />
<rect x="191.50" y="83.50" width="8.00" height="2.80" rx="1.40" fill="#0808b0" stroke="none" stroke-width="0.6"/>
<rect x="203.40" y="83.50" width="8.00" height="2.80" rx="1.40" fill="#0c0cc8" stroke="none" stroke-width="0.6"/>
<rect x="215.90" y="83.60" width="7.00" height="2.60" rx="1.30" fill="#8890ec" stroke="#3a46c8" stroke-width="0.6"/>
<rect x="228.00" y="82.60" width="7.00" height="2.00" rx="1.00" fill="#fff" stroke="#c0a0a0" stroke-width="0.6"/>
<rect x="275.00" y="83.50" width="8.00" height="2.80" rx="1.40" fill="#0808b0" stroke="none" stroke-width="0.6"/>
<rect x="286.90" y="83.50" width="8.00" height="2.80" rx="1.40" fill="#0c0cc8" stroke="none" stroke-width="0.6"/>
<rect x="299.10" y="83.60" width="7.00" height="2.60" rx="1.30" fill="#8890ec" stroke="#3a46c8" stroke-width="0.6"/>
<rect x="311.10" y="82.60" width="7.00" height="2.00" rx="1.00" fill="#fff" stroke="#c0a0a0" stroke-width="0.6"/>
<rect x="358.50" y="83.50" width="8.00" height="2.80" rx="1.40" fill="#000078" stroke="none" stroke-width="0.6"/>
<rect x="370.30" y="83.50" width="8.00" height="2.80" rx="1.40" fill="#0808b8" stroke="none" stroke-width="0.6"/>
<rect x="382.90" y="83.60" width="7.00" height="2.60" rx="1.30" fill="#8890ec" stroke="#3a46c8" stroke-width="0.6"/>
<rect x="394.90" y="82.60" width="7.00" height="2.00" rx="1.00" fill="#fff" stroke="#c0a0a0" stroke-width="0.6"/>
<circle cx="241.20" cy="73.20" r="1.15" fill="#f5b4b4" stroke="#e26464" stroke-width="0.5"/>
<circle cx="243.60" cy="74.60" r="1.15" fill="#f5b4b4" stroke="#e26464" stroke-width="0.5"/>
<circle cx="246.20" cy="75.20" r="1.15" fill="#f5b4b4" stroke="#e26464" stroke-width="0.5"/>
<circle cx="241.80" cy="76.80" r="1.15" fill="#f5b4b4" stroke="#e26464" stroke-width="0.5"/>
<circle cx="244.40" cy="77.60" r="1.15" fill="#f5b4b4" stroke="#e26464" stroke-width="0.5"/>
<circle cx="246.80" cy="78.00" r="1.15" fill="#f5b4b4" stroke="#e26464" stroke-width="0.5"/>
<circle cx="240.90" cy="79.40" r="1.15" fill="#f5b4b4" stroke="#e26464" stroke-width="0.5"/>
<circle cx="243.10" cy="80.20" r="1.15" fill="#f5b4b4" stroke="#e26464" stroke-width="0.5"/>
<circle cx="245.20" cy="80.80" r="1.15" fill="#f5b4b4" stroke="#e26464" stroke-width="0.5"/>
<circle cx="242.30" cy="71.80" r="1.15" fill="#f5b4b4" stroke="#e26464" stroke-width="0.5"/>
<circle cx="244.80" cy="72.60" r="1.15" fill="#f5b4b4" stroke="#e26464" stroke-width="0.5"/>
<circle cx="244.60" cy="69.60" r="1.2" fill="#e83a3a" stroke="#d02020" stroke-width="0.5"/>
<circle cx="247.20" cy="72.00" r="1.2" fill="#e83a3a" stroke="#d02020" stroke-width="0.5"/>
<circle cx="324.40" cy="71.00" r="1.15" fill="#f5b4b4" stroke="#e26464" stroke-width="0.5"/>
<circle cx="327.00" cy="72.40" r="1.15" fill="#f5b4b4" stroke="#e26464" stroke-width="0.5"/>
<circle cx="329.00" cy="71.40" r="1.15" fill="#f5b4b4" stroke="#e26464" stroke-width="0.5"/>
<circle cx="324.00" cy="74.20" r="1.15" fill="#f5b4b4" stroke="#e26464" stroke-width="0.5"/>
<circle cx="326.60" cy="75.40" r="1.15" fill="#f5b4b4" stroke="#e26464" stroke-width="0.5"/>
<circle cx="328.80" cy="74.80" r="1.15" fill="#f5b4b4" stroke="#e26464" stroke-width="0.5"/>
<circle cx="324.80" cy="77.60" r="1.15" fill="#f5b4b4" stroke="#e26464" stroke-width="0.5"/>
<circle cx="327.40" cy="78.60" r="1.15" fill="#f5b4b4" stroke="#e26464" stroke-width="0.5"/>
<circle cx="329.40" cy="77.80" r="1.15" fill="#f5b4b4" stroke="#e26464" stroke-width="0.5"/>
<circle cx="325.60" cy="80.40" r="1.15" fill="#f5b4b4" stroke="#e26464" stroke-width="0.5"/>
<circle cx="327.80" cy="81.00" r="1.15" fill="#f5b4b4" stroke="#e26464" stroke-width="0.5"/>
<circle cx="325.20" cy="68.60" r="1.2" fill="#e83a3a" stroke="#d02020" stroke-width="0.5"/>
<circle cx="328.00" cy="69.80" r="1.2" fill="#e83a3a" stroke="#d02020" stroke-width="0.5"/>
<circle cx="409.00" cy="36.60" r="1.3" fill="#8a0000" stroke="#600000" stroke-width="0.5"/>
<circle cx="410.00" cy="38.00" r="1.3" fill="#8a0000" stroke="#600000" stroke-width="0.5"/>
<circle cx="408.20" cy="37.80" r="1.3" fill="#8a0000" stroke="#600000" stroke-width="0.5"/>
<circle cx="412.20" cy="45.20" r="1.3" fill="#e02020" stroke="#b01010" stroke-width="0.5"/>
<circle cx="410.00" cy="52.00" r="1.3" fill="#e02020" stroke="#b01010" stroke-width="0.5"/>
<circle cx="413.00" cy="51.50" r="1.3" fill="#e02020" stroke="#b01010" stroke-width="0.5"/>
<circle cx="411.50" cy="50.80" r="1.3" fill="#e02020" stroke="#b01010" stroke-width="0.5"/>
<circle cx="407.50" cy="55.70" r="1.3" fill="#e02020" stroke="#b01010" stroke-width="0.5"/>
<circle cx="408.00" cy="64.50" r="1.3" fill="#e02020" stroke="#b01010" stroke-width="0.5"/>
<circle cx="410.50" cy="62.80" r="1.3" fill="#e02020" stroke="#b01010" stroke-width="0.5"/>
<circle cx="413.50" cy="61.50" r="1.3" fill="#e02020" stroke="#b01010" stroke-width="0.5"/>
<circle cx="415.20" cy="62.60" r="1.3" fill="#e02020" stroke="#b01010" stroke-width="0.5"/>
<g>
<text x="239.3" y="52.5" text-anchor="middle" fill="#333" font-size="5.8">Angina</text>
<text x="226.5" y="63.6" text-anchor="middle" fill="#333" font-size="5.8">RA</text>
<text x="214.8" y="76.4" text-anchor="middle" fill="#333" font-size="5.8">Ulcerative</text>
<text x="214.8" y="83.2" text-anchor="middle" fill="#333" font-size="5.8">colitis</text>
<text x="322" y="53.7" text-anchor="middle" fill="#333" font-size="5.8">Stroke</text>
<text x="294" y="61.3" text-anchor="middle" fill="#333" font-size="5.8">Peripheral</text>
<text x="294" y="68.0" text-anchor="middle" fill="#333" font-size="5.8">neuropathy</text>
<text x="307" y="78.6" text-anchor="middle" fill="#333" font-size="5.8">Gout</text>
<text x="398" y="38.2" text-anchor="end" fill="#333" font-size="5.8">Angina</text>
<text x="415.7" y="38.2" text-anchor="start" fill="#333" font-size="5.8">Stroke</text>
<text x="407.2" y="45.4" text-anchor="end" fill="#333" font-size="5.8">Periph. neurop.</text>
<text x="402.6" y="52.4" text-anchor="end" fill="#333" font-size="5.8">Rheum. arth.</text>
<text x="400.6" y="61.6" text-anchor="end" fill="#333" font-size="5.8">Gout</text>
<text x="389.4" y="67.7" text-anchor="end" fill="#333" font-size="5.8">Ulcerative</text>
<text x="376" y="74.3" text-anchor="middle" fill="#333" font-size="5.8">colitis</text>
</g>
<path d="M243.5,54 V70" fill="none" stroke="#444" stroke-width="0.55" />
<path d="M233,65 L241,73" fill="none" stroke="#444" stroke-width="0.55" />
<path d="M227,79 L240,80.2" fill="none" stroke="#444" stroke-width="0.55" />
<path d="M326.3,55.5 V69.5" fill="none" stroke="#444" stroke-width="0.55" />
<path d="M311,64.5 L323.5,69" fill="none" stroke="#444" stroke-width="0.55" />
<path d="M315,76.2 L325.5,79.5" fill="none" stroke="#444" stroke-width="0.55" />
<path d="M398.5,36.4 L408,36.8" fill="none" stroke="#444" stroke-width="0.55" />
<path d="M411,36.8 L415,36.8" fill="none" stroke="#444" stroke-width="0.55" />
<path d="M406,43 L409,38" fill="none" stroke="#444" stroke-width="0.55" />
<path d="M403,49.2 L411.5,45.2" fill="none" stroke="#444" stroke-width="0.55" />
<path d="M401,59.6 L409,62.6" fill="none" stroke="#444" stroke-width="0.55" />
<path d="M389.5,65 L407,64.5" fill="none" stroke="#444" stroke-width="0.55" />
<circle cx="194.23" cy="161.16" r="1.2" fill="#3a48f0" stroke="#1a28d8" stroke-width="0.5"/>
<circle cx="196.59" cy="160.30" r="1.2" fill="#3a48f0" stroke="#1a28d8" stroke-width="0.5"/>
<circle cx="195.76" cy="163.52" r="1.2" fill="#3a48f0" stroke="#1a28d8" stroke-width="0.5"/>
<circle cx="192.32" cy="165.08" r="1.2" fill="#3a48f0" stroke="#1a28d8" stroke-width="0.5"/>
<circle cx="192.17" cy="164.27" r="1.2" fill="#3a48f0" stroke="#1a28d8" stroke-width="0.5"/>
<circle cx="192.40" cy="160.50" r="1.2" fill="#3a48f0" stroke="#1a28d8" stroke-width="0.5"/>
<circle cx="194.96" cy="168.60" r="1.2" fill="#3a48f0" stroke="#1a28d8" stroke-width="0.5"/>
<circle cx="192.79" cy="161.96" r="1.2" fill="#3a48f0" stroke="#1a28d8" stroke-width="0.5"/>
<circle cx="196.42" cy="169.92" r="1.2" fill="#3a48f0" stroke="#1a28d8" stroke-width="0.5"/>
<circle cx="196.06" cy="163.86" r="1.2" fill="#3a48f0" stroke="#1a28d8" stroke-width="0.5"/>
<circle cx="198.93" cy="160.01" r="1.2" fill="#3a48f0" stroke="#1a28d8" stroke-width="0.5"/>
<circle cx="198.08" cy="162.69" r="1.2" fill="#3a48f0" stroke="#1a28d8" stroke-width="0.5"/>
<circle cx="192.94" cy="160.80" r="1.2" fill="#3a48f0" stroke="#1a28d8" stroke-width="0.5"/>
<circle cx="194.12" cy="168.48" r="1.2" fill="#3a48f0" stroke="#1a28d8" stroke-width="0.5"/>
<circle cx="196.50" cy="173.50" r="1.2" fill="#3a48f0" stroke="#1a28d8" stroke-width="0.5"/>
<circle cx="193.50" cy="168.50" r="1.2" fill="#3a48f0" stroke="#1a28d8" stroke-width="0.5"/>
<circle cx="204.99" cy="162.23" r="1.2" fill="#5c68f0" stroke="#2a3ae0" stroke-width="0.5"/>
<circle cx="207.88" cy="160.35" r="1.2" fill="#5c68f0" stroke="#2a3ae0" stroke-width="0.5"/>
<circle cx="207.30" cy="157.57" r="1.2" fill="#5c68f0" stroke="#2a3ae0" stroke-width="0.5"/>
<circle cx="204.23" cy="158.85" r="1.2" fill="#5c68f0" stroke="#2a3ae0" stroke-width="0.5"/>
<circle cx="208.14" cy="160.85" r="1.2" fill="#5c68f0" stroke="#2a3ae0" stroke-width="0.5"/>
<circle cx="205.83" cy="162.27" r="1.2" fill="#5c68f0" stroke="#2a3ae0" stroke-width="0.5"/>
<circle cx="206.71" cy="159.70" r="1.2" fill="#5c68f0" stroke="#2a3ae0" stroke-width="0.5"/>
<circle cx="208.85" cy="163.29" r="1.2" fill="#5c68f0" stroke="#2a3ae0" stroke-width="0.5"/>
<circle cx="205.39" cy="162.17" r="1.2" fill="#5c68f0" stroke="#2a3ae0" stroke-width="0.5"/>
<circle cx="207.16" cy="164.88" r="1.2" fill="#5c68f0" stroke="#2a3ae0" stroke-width="0.5"/>
<circle cx="208.45" cy="159.59" r="1.2" fill="#5c68f0" stroke="#2a3ae0" stroke-width="0.5"/>
<circle cx="210.03" cy="158.06" r="1.2" fill="#5c68f0" stroke="#2a3ae0" stroke-width="0.5"/>
<circle cx="218.48" cy="159.29" r="1.2" fill="#a4acf4" stroke="#6a78e8" stroke-width="0.5"/>
<circle cx="216.81" cy="157.94" r="1.2" fill="#a4acf4" stroke="#6a78e8" stroke-width="0.5"/>
<circle cx="216.10" cy="158.84" r="1.2" fill="#a4acf4" stroke="#6a78e8" stroke-width="0.5"/>
<circle cx="220.67" cy="158.37" r="1.2" fill="#a4acf4" stroke="#6a78e8" stroke-width="0.5"/>
<circle cx="221.37" cy="157.07" r="1.2" fill="#a4acf4" stroke="#6a78e8" stroke-width="0.5"/>
<circle cx="220.23" cy="158.47" r="1.2" fill="#a4acf4" stroke="#6a78e8" stroke-width="0.5"/>
<circle cx="219.50" cy="157.78" r="1.2" fill="#a4acf4" stroke="#6a78e8" stroke-width="0.5"/>
<circle cx="221.14" cy="160.22" r="1.2" fill="#a4acf4" stroke="#6a78e8" stroke-width="0.5"/>
<circle cx="218.84" cy="158.82" r="1.2" fill="#a4acf4" stroke="#6a78e8" stroke-width="0.5"/>
<circle cx="216.23" cy="159.01" r="1.2" fill="#a4acf4" stroke="#6a78e8" stroke-width="0.5"/>
<circle cx="231.93" cy="154.48" r="1.2" fill="#fbdede" stroke="#d89a9a" stroke-width="0.5"/>
<circle cx="233.03" cy="152.57" r="1.2" fill="#fbdede" stroke="#d89a9a" stroke-width="0.5"/>
<circle cx="230.28" cy="153.61" r="1.2" fill="#fbdede" stroke="#d89a9a" stroke-width="0.5"/>
<circle cx="227.99" cy="153.05" r="1.2" fill="#fbdede" stroke="#d89a9a" stroke-width="0.5"/>
<circle cx="228.91" cy="152.12" r="1.2" fill="#fbdede" stroke="#d89a9a" stroke-width="0.5"/>
<circle cx="228.22" cy="153.87" r="1.2" fill="#fbdede" stroke="#d89a9a" stroke-width="0.5"/>
<circle cx="228.66" cy="152.47" r="1.2" fill="#fbdede" stroke="#d89a9a" stroke-width="0.5"/>
<circle cx="242.81" cy="144.65" r="1.2" fill="#e41c1c" stroke="#b80000" stroke-width="0.5"/>
<circle cx="240.86" cy="140.22" r="1.2" fill="#e41c1c" stroke="#b80000" stroke-width="0.5"/>
<circle cx="243.81" cy="144.78" r="1.2" fill="#e41c1c" stroke="#b80000" stroke-width="0.5"/>
<circle cx="245.51" cy="144.57" r="1.2" fill="#e41c1c" stroke="#b80000" stroke-width="0.5"/>
<circle cx="242.10" cy="139.86" r="1.2" fill="#e41c1c" stroke="#b80000" stroke-width="0.5"/>
<circle cx="242.61" cy="144.78" r="1.2" fill="#e41c1c" stroke="#b80000" stroke-width="0.5"/>
<circle cx="246.38" cy="137.08" r="1.2" fill="#e41c1c" stroke="#b80000" stroke-width="0.5"/>
<circle cx="241.46" cy="137.94" r="1.2" fill="#e41c1c" stroke="#b80000" stroke-width="0.5"/>
<circle cx="241.82" cy="140.59" r="1.2" fill="#e41c1c" stroke="#b80000" stroke-width="0.5"/>
<circle cx="244.06" cy="138.26" r="1.2" fill="#e41c1c" stroke="#b80000" stroke-width="0.5"/>
<circle cx="240.38" cy="139.90" r="1.2" fill="#e41c1c" stroke="#b80000" stroke-width="0.5"/>
<circle cx="242.68" cy="141.45" r="1.2" fill="#e41c1c" stroke="#b80000" stroke-width="0.5"/>
<circle cx="246.35" cy="142.75" r="1.2" fill="#e41c1c" stroke="#b80000" stroke-width="0.5"/>
<circle cx="243.60" cy="141.98" r="1.2" fill="#e41c1c" stroke="#b80000" stroke-width="0.5"/>
<circle cx="244.61" cy="136.07" r="1.2" fill="#e41c1c" stroke="#b80000" stroke-width="0.5"/>
<circle cx="246.02" cy="143.69" r="1.2" fill="#e41c1c" stroke="#b80000" stroke-width="0.5"/>
<circle cx="282.95" cy="169.28" r="1.2" fill="#2a3af0" stroke="#1020d0" stroke-width="0.5"/>
<circle cx="278.83" cy="164.89" r="1.2" fill="#2a3af0" stroke="#1020d0" stroke-width="0.5"/>
<circle cx="276.36" cy="167.48" r="1.2" fill="#2a3af0" stroke="#1020d0" stroke-width="0.5"/>
<circle cx="276.01" cy="161.24" r="1.2" fill="#2a3af0" stroke="#1020d0" stroke-width="0.5"/>
<circle cx="277.26" cy="162.29" r="1.2" fill="#2a3af0" stroke="#1020d0" stroke-width="0.5"/>
<circle cx="278.38" cy="161.08" r="1.2" fill="#2a3af0" stroke="#1020d0" stroke-width="0.5"/>
<circle cx="275.48" cy="162.16" r="1.2" fill="#2a3af0" stroke="#1020d0" stroke-width="0.5"/>
<circle cx="276.34" cy="164.50" r="1.2" fill="#2a3af0" stroke="#1020d0" stroke-width="0.5"/>
<circle cx="275.69" cy="170.12" r="1.2" fill="#2a3af0" stroke="#1020d0" stroke-width="0.5"/>
<circle cx="280.73" cy="162.13" r="1.2" fill="#2a3af0" stroke="#1020d0" stroke-width="0.5"/>
<circle cx="277.63" cy="164.32" r="1.2" fill="#2a3af0" stroke="#1020d0" stroke-width="0.5"/>
<circle cx="278.59" cy="161.85" r="1.2" fill="#2a3af0" stroke="#1020d0" stroke-width="0.5"/>
<circle cx="282.73" cy="171.42" r="1.2" fill="#2a3af0" stroke="#1020d0" stroke-width="0.5"/>
<circle cx="279.46" cy="165.82" r="1.2" fill="#2a3af0" stroke="#1020d0" stroke-width="0.5"/>
<circle cx="276.21" cy="161.62" r="1.2" fill="#2a3af0" stroke="#1020d0" stroke-width="0.5"/>
<circle cx="278.40" cy="163.41" r="1.2" fill="#2a3af0" stroke="#1020d0" stroke-width="0.5"/>
<circle cx="282.56" cy="162.28" r="1.2" fill="#2a3af0" stroke="#1020d0" stroke-width="0.5"/>
<circle cx="275.67" cy="170.96" r="1.2" fill="#2a3af0" stroke="#1020d0" stroke-width="0.5"/>
<circle cx="291.70" cy="158.97" r="1.2" fill="#4a5af0" stroke="#2a3ae0" stroke-width="0.5"/>
<circle cx="291.81" cy="157.77" r="1.2" fill="#4a5af0" stroke="#2a3ae0" stroke-width="0.5"/>
<circle cx="291.70" cy="167.29" r="1.2" fill="#4a5af0" stroke="#2a3ae0" stroke-width="0.5"/>
<circle cx="294.12" cy="164.46" r="1.2" fill="#4a5af0" stroke="#2a3ae0" stroke-width="0.5"/>
<circle cx="289.78" cy="161.17" r="1.2" fill="#4a5af0" stroke="#2a3ae0" stroke-width="0.5"/>
<circle cx="289.10" cy="165.22" r="1.2" fill="#4a5af0" stroke="#2a3ae0" stroke-width="0.5"/>
<circle cx="291.73" cy="165.29" r="1.2" fill="#4a5af0" stroke="#2a3ae0" stroke-width="0.5"/>
<circle cx="290.27" cy="159.73" r="1.2" fill="#4a5af0" stroke="#2a3ae0" stroke-width="0.5"/>
<circle cx="293.74" cy="167.35" r="1.2" fill="#4a5af0" stroke="#2a3ae0" stroke-width="0.5"/>
<circle cx="294.04" cy="165.56" r="1.2" fill="#4a5af0" stroke="#2a3ae0" stroke-width="0.5"/>
<circle cx="293.79" cy="164.90" r="1.2" fill="#4a5af0" stroke="#2a3ae0" stroke-width="0.5"/>
<circle cx="289.53" cy="162.68" r="1.2" fill="#4a5af0" stroke="#2a3ae0" stroke-width="0.5"/>
<circle cx="290.46" cy="157.79" r="1.2" fill="#4a5af0" stroke="#2a3ae0" stroke-width="0.5"/>
<circle cx="288.10" cy="160.29" r="1.2" fill="#4a5af0" stroke="#2a3ae0" stroke-width="0.5"/>
<circle cx="300.98" cy="160.35" r="1.2" fill="#a4acf4" stroke="#6a78e8" stroke-width="0.5"/>
<circle cx="305.38" cy="158.63" r="1.2" fill="#a4acf4" stroke="#6a78e8" stroke-width="0.5"/>
<circle cx="305.25" cy="162.42" r="1.2" fill="#a4acf4" stroke="#6a78e8" stroke-width="0.5"/>
<circle cx="305.37" cy="158.05" r="1.2" fill="#a4acf4" stroke="#6a78e8" stroke-width="0.5"/>
<circle cx="300.74" cy="157.09" r="1.2" fill="#a4acf4" stroke="#6a78e8" stroke-width="0.5"/>
<circle cx="300.59" cy="156.93" r="1.2" fill="#a4acf4" stroke="#6a78e8" stroke-width="0.5"/>
<circle cx="303.28" cy="161.80" r="1.2" fill="#a4acf4" stroke="#6a78e8" stroke-width="0.5"/>
<circle cx="304.64" cy="158.86" r="1.2" fill="#a4acf4" stroke="#6a78e8" stroke-width="0.5"/>
<circle cx="303.46" cy="161.10" r="1.2" fill="#a4acf4" stroke="#6a78e8" stroke-width="0.5"/>
<circle cx="299.88" cy="160.12" r="1.2" fill="#a4acf4" stroke="#6a78e8" stroke-width="0.5"/>
<circle cx="317.08" cy="154.24" r="1.2" fill="#fbdede" stroke="#d89a9a" stroke-width="0.5"/>
<circle cx="316.08" cy="153.17" r="1.2" fill="#fbdede" stroke="#d89a9a" stroke-width="0.5"/>
<circle cx="312.47" cy="154.26" r="1.2" fill="#fbdede" stroke="#d89a9a" stroke-width="0.5"/>
<circle cx="313.44" cy="154.30" r="1.2" fill="#fbdede" stroke="#d89a9a" stroke-width="0.5"/>
<circle cx="317.47" cy="152.89" r="1.2" fill="#fbdede" stroke="#d89a9a" stroke-width="0.5"/>
<circle cx="313.88" cy="154.81" r="1.2" fill="#fbdede" stroke="#d89a9a" stroke-width="0.5"/>
<circle cx="315.92" cy="152.10" r="1.2" fill="#fbdede" stroke="#d89a9a" stroke-width="0.5"/>
<circle cx="324.15" cy="136.01" r="1.2" fill="#e41c1c" stroke="#b80000" stroke-width="0.5"/>
<circle cx="329.05" cy="142.57" r="1.2" fill="#e41c1c" stroke="#b80000" stroke-width="0.5"/>
<circle cx="324.27" cy="142.77" r="1.2" fill="#e41c1c" stroke="#b80000" stroke-width="0.5"/>
<circle cx="329.53" cy="141.07" r="1.2" fill="#e41c1c" stroke="#b80000" stroke-width="0.5"/>
<circle cx="325.56" cy="139.99" r="1.2" fill="#e41c1c" stroke="#b80000" stroke-width="0.5"/>
<circle cx="324.18" cy="134.64" r="1.2" fill="#e41c1c" stroke="#b80000" stroke-width="0.5"/>
<circle cx="329.47" cy="141.00" r="1.2" fill="#e41c1c" stroke="#b80000" stroke-width="0.5"/>
<circle cx="326.67" cy="143.84" r="1.2" fill="#e41c1c" stroke="#b80000" stroke-width="0.5"/>
<circle cx="326.08" cy="143.22" r="1.2" fill="#e41c1c" stroke="#b80000" stroke-width="0.5"/>
<circle cx="328.55" cy="136.61" r="1.2" fill="#e41c1c" stroke="#b80000" stroke-width="0.5"/>
<circle cx="324.94" cy="137.43" r="1.2" fill="#e41c1c" stroke="#b80000" stroke-width="0.5"/>
<circle cx="324.87" cy="140.36" r="1.2" fill="#e41c1c" stroke="#b80000" stroke-width="0.5"/>
<circle cx="324.98" cy="138.69" r="1.2" fill="#e41c1c" stroke="#b80000" stroke-width="0.5"/>
<circle cx="324.18" cy="143.60" r="1.2" fill="#e41c1c" stroke="#b80000" stroke-width="0.5"/>
<circle cx="325.58" cy="139.08" r="1.2" fill="#e41c1c" stroke="#b80000" stroke-width="0.5"/>
<circle cx="327.03" cy="143.54" r="1.2" fill="#e41c1c" stroke="#b80000" stroke-width="0.5"/>
<circle cx="361.93" cy="171.68" r="1.2" fill="#1a2af0" stroke="#0010c0" stroke-width="0.5"/>
<circle cx="362.51" cy="167.82" r="1.2" fill="#1a2af0" stroke="#0010c0" stroke-width="0.5"/>
<circle cx="362.67" cy="162.69" r="1.2" fill="#1a2af0" stroke="#0010c0" stroke-width="0.5"/>
<circle cx="362.07" cy="164.33" r="1.2" fill="#1a2af0" stroke="#0010c0" stroke-width="0.5"/>
<circle cx="358.93" cy="170.49" r="1.2" fill="#1a2af0" stroke="#0010c0" stroke-width="0.5"/>
<circle cx="360.14" cy="167.23" r="1.2" fill="#1a2af0" stroke="#0010c0" stroke-width="0.5"/>
<circle cx="364.12" cy="168.06" r="1.2" fill="#1a2af0" stroke="#0010c0" stroke-width="0.5"/>
<circle cx="361.25" cy="167.68" r="1.2" fill="#1a2af0" stroke="#0010c0" stroke-width="0.5"/>
<circle cx="362.90" cy="170.34" r="1.2" fill="#1a2af0" stroke="#0010c0" stroke-width="0.5"/>
<circle cx="359.66" cy="168.10" r="1.2" fill="#1a2af0" stroke="#0010c0" stroke-width="0.5"/>
<circle cx="360.69" cy="165.27" r="1.2" fill="#1a2af0" stroke="#0010c0" stroke-width="0.5"/>
<circle cx="364.46" cy="167.58" r="1.2" fill="#1a2af0" stroke="#0010c0" stroke-width="0.5"/>
<circle cx="362.94" cy="170.10" r="1.2" fill="#1a2af0" stroke="#0010c0" stroke-width="0.5"/>
<circle cx="365.47" cy="166.93" r="1.2" fill="#1a2af0" stroke="#0010c0" stroke-width="0.5"/>
<circle cx="363.31" cy="167.56" r="1.2" fill="#1a2af0" stroke="#0010c0" stroke-width="0.5"/>
<circle cx="362.59" cy="169.43" r="1.2" fill="#1a2af0" stroke="#0010c0" stroke-width="0.5"/>
<circle cx="363.50" cy="175.50" r="1.2" fill="#1a2af0" stroke="#0010c0" stroke-width="0.5"/>
<circle cx="361.50" cy="177.80" r="1.2" fill="#1a2af0" stroke="#0010c0" stroke-width="0.5"/>
<circle cx="365.00" cy="170.50" r="1.2" fill="#1a2af0" stroke="#0010c0" stroke-width="0.5"/>
<circle cx="374.16" cy="162.83" r="1.2" fill="#3a4af0" stroke="#1a2ae0" stroke-width="0.5"/>
<circle cx="374.34" cy="166.92" r="1.2" fill="#3a4af0" stroke="#1a2ae0" stroke-width="0.5"/>
<circle cx="375.93" cy="166.27" r="1.2" fill="#3a4af0" stroke="#1a2ae0" stroke-width="0.5"/>
<circle cx="377.68" cy="160.10" r="1.2" fill="#3a4af0" stroke="#1a2ae0" stroke-width="0.5"/>
<circle cx="374.93" cy="166.93" r="1.2" fill="#3a4af0" stroke="#1a2ae0" stroke-width="0.5"/>
<circle cx="376.95" cy="158.87" r="1.2" fill="#3a4af0" stroke="#1a2ae0" stroke-width="0.5"/>
<circle cx="371.78" cy="161.92" r="1.2" fill="#3a4af0" stroke="#1a2ae0" stroke-width="0.5"/>
<circle cx="371.42" cy="159.91" r="1.2" fill="#3a4af0" stroke="#1a2ae0" stroke-width="0.5"/>
<circle cx="371.43" cy="164.19" r="1.2" fill="#3a4af0" stroke="#1a2ae0" stroke-width="0.5"/>
<circle cx="376.54" cy="166.47" r="1.2" fill="#3a4af0" stroke="#1a2ae0" stroke-width="0.5"/>
<circle cx="372.01" cy="164.66" r="1.2" fill="#3a4af0" stroke="#1a2ae0" stroke-width="0.5"/>
<circle cx="375.65" cy="158.93" r="1.2" fill="#3a4af0" stroke="#1a2ae0" stroke-width="0.5"/>
<circle cx="377.26" cy="167.18" r="1.2" fill="#3a4af0" stroke="#1a2ae0" stroke-width="0.5"/>
<circle cx="372.48" cy="167.03" r="1.2" fill="#3a4af0" stroke="#1a2ae0" stroke-width="0.5"/>
<circle cx="385.56" cy="158.91" r="1.2" fill="#b0b8f6" stroke="#6a78e8" stroke-width="0.5"/>
<circle cx="389.56" cy="161.33" r="1.2" fill="#b0b8f6" stroke="#6a78e8" stroke-width="0.5"/>
<circle cx="383.96" cy="158.52" r="1.2" fill="#b0b8f6" stroke="#6a78e8" stroke-width="0.5"/>
<circle cx="386.36" cy="157.87" r="1.2" fill="#b0b8f6" stroke="#6a78e8" stroke-width="0.5"/>
<circle cx="384.20" cy="157.73" r="1.2" fill="#b0b8f6" stroke="#6a78e8" stroke-width="0.5"/>
<circle cx="387.75" cy="155.64" r="1.2" fill="#b0b8f6" stroke="#6a78e8" stroke-width="0.5"/>
<circle cx="386.61" cy="158.58" r="1.2" fill="#b0b8f6" stroke="#6a78e8" stroke-width="0.5"/>
<circle cx="383.00" cy="157.82" r="1.2" fill="#b0b8f6" stroke="#6a78e8" stroke-width="0.5"/>
<circle cx="387.09" cy="159.09" r="1.2" fill="#b0b8f6" stroke="#6a78e8" stroke-width="0.5"/>
<circle cx="383.31" cy="162.40" r="1.2" fill="#b0b8f6" stroke="#6a78e8" stroke-width="0.5"/>
<circle cx="400.32" cy="156.30" r="1.2" fill="#fde8e8" stroke="#d8a0a0" stroke-width="0.5"/>
<circle cx="396.01" cy="151.36" r="1.2" fill="#fde8e8" stroke="#d8a0a0" stroke-width="0.5"/>
<circle cx="395.60" cy="154.95" r="1.2" fill="#fde8e8" stroke="#d8a0a0" stroke-width="0.5"/>
<circle cx="397.05" cy="150.41" r="1.2" fill="#fde8e8" stroke="#d8a0a0" stroke-width="0.5"/>
<circle cx="398.01" cy="155.88" r="1.2" fill="#fde8e8" stroke="#d8a0a0" stroke-width="0.5"/>
<circle cx="400.51" cy="151.31" r="1.2" fill="#fde8e8" stroke="#d8a0a0" stroke-width="0.5"/>
<circle cx="396.29" cy="155.93" r="1.2" fill="#fde8e8" stroke="#d8a0a0" stroke-width="0.5"/>
<circle cx="398.94" cy="154.40" r="1.2" fill="#fde8e8" stroke="#d8a0a0" stroke-width="0.5"/>
<circle cx="395.91" cy="149.90" r="1.2" fill="#fde8e8" stroke="#d8a0a0" stroke-width="0.5"/>
<circle cx="411.52" cy="131.48" r="1.2" fill="#a00000" stroke="#700000" stroke-width="0.5"/>
<circle cx="407.36" cy="135.07" r="1.2" fill="#a00000" stroke="#700000" stroke-width="0.5"/>
<circle cx="411.16" cy="134.11" r="1.2" fill="#a00000" stroke="#700000" stroke-width="0.5"/>
<circle cx="407.44" cy="134.49" r="1.2" fill="#a00000" stroke="#700000" stroke-width="0.5"/>
<circle cx="407.32" cy="134.54" r="1.2" fill="#a00000" stroke="#700000" stroke-width="0.5"/>
<circle cx="409.94" cy="130.87" r="1.2" fill="#a00000" stroke="#700000" stroke-width="0.5"/>
<circle cx="410.61" cy="134.99" r="1.2" fill="#a00000" stroke="#700000" stroke-width="0.5"/>
<circle cx="408.68" cy="129.40" r="1.2" fill="#a00000" stroke="#700000" stroke-width="0.5"/>
<circle cx="410.43" cy="130.17" r="1.2" fill="#a00000" stroke="#700000" stroke-width="0.5"/>
<circle cx="407.61" cy="129.63" r="1.2" fill="#a00000" stroke="#700000" stroke-width="0.5"/>
<circle cx="407.22" cy="129.91" r="1.2" fill="#a00000" stroke="#700000" stroke-width="0.5"/>
<circle cx="408.98" cy="130.64" r="1.2" fill="#a00000" stroke="#700000" stroke-width="0.5"/>
<circle cx="412.00" cy="130.53" r="1.2" fill="#a00000" stroke="#700000" stroke-width="0.5"/>
<circle cx="410.25" cy="129.75" r="1.2" fill="#a00000" stroke="#700000" stroke-width="0.5"/>
<circle cx="409.22" cy="128.63" r="1.2" fill="#a00000" stroke="#700000" stroke-width="0.5"/>
<circle cx="408.57" cy="128.61" r="1.2" fill="#a00000" stroke="#700000" stroke-width="0.5"/>
<defs><linearGradient id="gb1" x1="0" x2="1"><stop offset="0" stop-color="#000080"/><stop offset="0.5" stop-color="#0000f0"/><stop offset="1" stop-color="#ffffff"/></linearGradient><linearGradient id="gr1" x1="0" x2="1"><stop offset="0" stop-color="#ffffff"/><stop offset="0.5" stop-color="#f00000"/><stop offset="1" stop-color="#800000"/></linearGradient></defs>
<path d="M216.4,119.5 V113" fill="none" stroke="#334" stroke-width="1.1" />
<path d="M214.6,114.2 L216.4,110.4 L218.2,114.2 Z" fill="#334" stroke="none" stroke-width="0.8" />
<text x="219.00" y="119.00" font-size="7.4" text-anchor="start" fill="#262626" font-weight="normal" >OR</text>
<rect x="234.00" y="114.30" width="18.00" height="4.80" fill="url(#gb1)" />
<rect x="253.50" y="114.30" width="18.00" height="4.80" fill="url(#gr1)" />
<text x="234.50" y="111.00" font-size="7.3" text-anchor="middle" fill="#262626" font-weight="normal" >0</text>
<text x="252.50" y="111.00" font-size="7.3" text-anchor="middle" fill="#262626" font-weight="normal" >1</text>
<text x="269.50" y="111.00" font-size="7.3" text-anchor="middle" fill="#262626" font-weight="normal" >40</text>
<path d="M343.2,110.8 V117.2" fill="none" stroke="#334" stroke-width="1.1" />
<path d="M341.4,116.4 L343.2,120.2 L345,116.4 Z" fill="#334" stroke="none" stroke-width="0.8" />
<text x="345.60" y="119.00" font-size="7.4" text-anchor="start" fill="#262626" font-weight="normal" >log-OR</text>
<rect x="375.00" y="114.30" width="17.60" height="4.80" fill="url(#gb1)" />
<rect x="395.20" y="114.30" width="17.60" height="4.80" fill="url(#gr1)" />
<text x="379.00" y="111.00" font-size="7.3" text-anchor="middle" fill="#262626" font-weight="normal" >−3.2</text>
<text x="394.00" y="111.00" font-size="7.3" text-anchor="middle" fill="#262626" font-weight="normal" >0</text>
<text x="411.00" y="111.00" font-size="7.3" text-anchor="middle" fill="#262626" font-weight="normal" >3.8</text>
<text x="452.7" y="26.8" font-size="7.46"><tspan fill="#5b8ee6">Blood</tspan><tspan fill="#888"> × Psychosocial</tspan></text>
<line x1="458.00" y1="31.10" x2="520.50" y2="31.10" stroke="#7aa3ea" stroke-width="0.9" />
<rect x="458.20" y="39.90" width="30.30" height="7.20" fill="#a2bff2" />
<rect x="491.40" y="39.90" width="29.20" height="7.20" fill="#c3c3cb" />
<text x="458.60" y="46.20" font-size="7.6" text-anchor="start" fill="#1e1e2e" font-weight="normal" >Angina</text>
<rect x="458.20" y="49.03" width="26.80" height="7.20" fill="#a2bff2" />
<rect x="491.40" y="49.03" width="30.60" height="7.20" fill="#c3c3cb" />
<text x="458.60" y="55.33" font-size="7.6" text-anchor="start" fill="#1e1e2e" font-weight="normal" >Stroke</text>
<rect x="458.20" y="58.16" width="24.70" height="7.20" fill="#a2bff2" />
<rect x="491.40" y="58.16" width="16.60" height="7.20" fill="#c3c3cb" />
<text x="458.60" y="64.46" font-size="7.6" text-anchor="start" fill="#1e1e2e" font-weight="normal" >Gout</text>
<rect x="458.20" y="67.29" width="24.70" height="7.20" fill="#a2bff2" />
<rect x="491.40" y="67.29" width="26.60" height="7.20" fill="#c3c3cb" />
<text x="458.60" y="73.59" font-size="7.6" text-anchor="start" fill="#1e1e2e" font-weight="normal" >Rheum. Arthritis</text>
<rect x="458.20" y="76.42" width="25.60" height="7.20" fill="#a2bff2" />
<rect x="491.40" y="76.42" width="21.80" height="7.20" fill="#c3c3cb" />
<text x="458.60" y="82.72" font-size="7.6" text-anchor="start" fill="#1e1e2e" font-weight="normal" >Crohn's disease</text>
<rect x="458.20" y="85.55" width="23.80" height="7.20" fill="#a2bff2" />
<rect x="491.40" y="85.55" width="23.00" height="7.20" fill="#c3c3cb" />
<text x="458.60" y="91.85" font-size="7.6" text-anchor="start" fill="#1e1e2e" font-weight="normal" >Polymy. rheum.</text>
<rect x="458.20" y="94.68" width="23.00" height="7.20" fill="#a2bff2" />
<rect x="491.40" y="94.68" width="23.00" height="7.20" fill="#c3c3cb" />
<text x="458.60" y="100.98" font-size="7.6" text-anchor="start" fill="#1e1e2e" font-weight="normal" >Psoriatic. arth</text>
<rect x="458.20" y="103.81" width="21.80" height="7.20" fill="#a2bff2" />
<rect x="491.40" y="103.81" width="29.20" height="7.20" fill="#c3c3cb" />
<text x="458.60" y="110.11" font-size="7.6" text-anchor="start" fill="#1e1e2e" font-weight="normal" >Periph. neur.</text>
<rect x="458.20" y="112.94" width="19.50" height="7.20" fill="#a2bff2" />
<rect x="491.40" y="112.94" width="25.60" height="7.20" fill="#c3c3cb" />
<text x="458.60" y="119.24" font-size="7.6" text-anchor="start" fill="#1e1e2e" font-weight="normal" >Ankylosing. spond.</text>
<rect x="458.20" y="122.07" width="18.60" height="7.20" fill="#a2bff2" />
<rect x="491.40" y="122.07" width="21.80" height="7.20" fill="#c3c3cb" />
<text x="458.60" y="128.37" font-size="7.6" text-anchor="start" fill="#1e1e2e" font-weight="normal" >Pulmon. emb.</text>
<rect x="458.20" y="131.20" width="17.80" height="7.20" fill="#a2bff2" />
<rect x="491.40" y="131.20" width="19.60" height="7.20" fill="#c3c3cb" />
<text x="458.60" y="137.50" font-size="7.6" text-anchor="start" fill="#1e1e2e" font-weight="normal" >Ulcerative. col.</text>
<rect x="458.20" y="140.33" width="16.80" height="7.20" fill="#a2bff2" />
<rect x="491.40" y="140.33" width="22.20" height="7.20" fill="#c3c3cb" />
<text x="458.60" y="146.63" font-size="7.6" text-anchor="start" fill="#1e1e2e" font-weight="normal" >Arthritis</text>
<rect x="458.20" y="149.46" width="17.80" height="7.20" fill="#a2bff2" />
<rect x="491.40" y="149.46" width="21.30" height="7.20" fill="#c3c3cb" />
<text x="458.60" y="155.76" font-size="7.6" text-anchor="start" fill="#1e1e2e" font-weight="normal" >Carpal tunnel</text>
<text x="449.60" y="97.70" font-size="8.4" text-anchor="middle" fill="#262626" font-weight="normal" transform="rotate(-90 449.6 97.7)" dy="2.9">Diagnosis</text>
<line x1="458.30" y1="163.60" x2="487.40" y2="163.60" stroke="#555" stroke-width="0.8" />
<line x1="458.30" y1="163.60" x2="458.30" y2="166.80" stroke="#555" stroke-width="0.8" />
<line x1="480.90" y1="163.60" x2="480.90" y2="166.80" stroke="#555" stroke-width="0.8" />
<text x="458.30" y="176.80" font-size="7.9" text-anchor="middle" fill="#262626" font-weight="normal" >0</text>
<text x="480.90" y="176.80" font-size="7.9" text-anchor="middle" fill="#262626" font-weight="normal" >1</text>
<line x1="491.40" y1="163.60" x2="521.50" y2="163.60" stroke="#555" stroke-width="0.8" />
<line x1="491.40" y1="163.60" x2="491.40" y2="166.80" stroke="#555" stroke-width="0.8" />
<line x1="505.70" y1="163.60" x2="505.70" y2="166.80" stroke="#555" stroke-width="0.8" />
<text x="491.40" y="176.80" font-size="7.9" text-anchor="middle" fill="#262626" font-weight="normal" >0</text>
<text x="505.70" y="176.80" font-size="7.9" text-anchor="middle" fill="#262626" font-weight="normal" >1</text>
<text x="491.5" y="190.0" font-size="8.7" text-anchor="middle" fill="#262626">Cohen’s <tspan font-style="italic">d</tspan></text>
<text x="491.50" y="200.20" font-size="8.7" text-anchor="middle" fill="#262626" font-weight="normal" >(Dx versus Dx-free)</text>
<rect x="558.60" y="40.30" width="24.56" height="24.42" fill="#ffdfdf" />
<rect x="583.16" y="40.30" width="24.56" height="24.42" fill="#ffa9a9" />
<rect x="607.72" y="40.30" width="24.56" height="24.42" fill="#ff6a6a" />
<rect x="632.28" y="40.30" width="24.56" height="24.42" fill="#ff2323" />
<rect x="656.84" y="40.30" width="24.56" height="24.42" fill="#950000" />
<rect x="558.60" y="64.72" width="24.56" height="24.42" fill="#9797f9" />
<rect x="583.16" y="64.72" width="24.56" height="24.42" fill="#ccccfc" />
<rect x="607.72" y="64.72" width="24.56" height="24.42" fill="#ffffff" />
<rect x="632.28" y="64.72" width="24.56" height="24.42" fill="#ffb6b6" />
<rect x="656.84" y="64.72" width="24.56" height="24.42" fill="#ff1717" />
<rect x="558.60" y="89.14" width="24.56" height="24.42" fill="#6666f6" />
<rect x="583.16" y="89.14" width="24.56" height="24.42" fill="#8a8af8" />
<rect x="607.72" y="89.14" width="24.56" height="24.42" fill="#bebefb" />
<rect x="632.28" y="89.14" width="24.56" height="24.42" fill="#ffffff" />
<rect x="656.84" y="89.14" width="24.56" height="24.42" fill="#ff6a6a" />
<rect x="558.60" y="113.56" width="24.56" height="24.42" fill="#3737f3" />
<rect x="583.16" y="113.56" width="24.56" height="24.42" fill="#5a5af5" />
<rect x="607.72" y="113.56" width="24.56" height="24.42" fill="#8a8af8" />
<rect x="632.28" y="113.56" width="24.56" height="24.42" fill="#ccccfc" />
<rect x="656.84" y="113.56" width="24.56" height="24.42" fill="#ff9c9c" />
<rect x="558.60" y="137.98" width="24.56" height="24.42" fill="#1616f1" />
<rect x="583.16" y="137.98" width="24.56" height="24.42" fill="#4343f4" />
<rect x="607.72" y="137.98" width="24.56" height="24.42" fill="#6666f6" />
<rect x="632.28" y="137.98" width="24.56" height="24.42" fill="#a3a3fa" />
<rect x="656.84" y="137.98" width="24.56" height="24.42" fill="#ffd1d1" />
<line x1="583.16" y1="40.30" x2="583.16" y2="162.40" stroke="#fff" stroke-width="0.6" />
<line x1="558.60" y1="64.72" x2="681.40" y2="64.72" stroke="#fff" stroke-width="0.6" />
<line x1="607.72" y1="40.30" x2="607.72" y2="162.40" stroke="#fff" stroke-width="0.6" />
<line x1="558.60" y1="89.14" x2="681.40" y2="89.14" stroke="#fff" stroke-width="0.6" />
<line x1="632.28" y1="40.30" x2="632.28" y2="162.40" stroke="#fff" stroke-width="0.6" />
<line x1="558.60" y1="113.56" x2="681.40" y2="113.56" stroke="#fff" stroke-width="0.6" />
<line x1="656.84" y1="40.30" x2="656.84" y2="162.40" stroke="#fff" stroke-width="0.6" />
<line x1="558.60" y1="137.98" x2="681.40" y2="137.98" stroke="#fff" stroke-width="0.6" />
<text x="570.88" y="55.21" font-size="7.5" text-anchor="middle" fill="#222" font-weight="normal" >0.2</text>
<text x="595.44" y="55.21" font-size="7.5" text-anchor="middle" fill="#222" font-weight="normal" >0.6</text>
<text x="620.00" y="55.21" font-size="7.5" text-anchor="middle" fill="#fff" font-weight="normal" >1.1</text>
<text x="644.56" y="55.21" font-size="7.5" text-anchor="middle" fill="#fff" font-weight="normal" >1.7</text>
<text x="669.12" y="55.21" font-size="7.5" text-anchor="middle" fill="#fff" font-weight="normal" >3.2</text>
<text x="570.88" y="79.63" font-size="7.5" text-anchor="middle" fill="#fff" font-weight="normal" >−0.7</text>
<text x="595.44" y="79.63" font-size="7.5" text-anchor="middle" fill="#222" font-weight="normal" >−0.3</text>
<text x="620.00" y="79.63" font-size="7.5" text-anchor="middle" fill="#222" font-weight="normal" >0.0</text>
<text x="644.56" y="79.63" font-size="7.5" text-anchor="middle" fill="#222" font-weight="normal" >0.5</text>
<text x="669.12" y="79.63" font-size="7.5" text-anchor="middle" fill="#fff" font-weight="normal" >1.8</text>
<text x="570.88" y="104.05" font-size="7.5" text-anchor="middle" fill="#fff" font-weight="normal" >−1.1</text>
<text x="595.44" y="104.05" font-size="7.5" text-anchor="middle" fill="#fff" font-weight="normal" >−0.8</text>
<text x="620.00" y="104.05" font-size="7.5" text-anchor="middle" fill="#222" font-weight="normal" >−0.4</text>
<text x="644.56" y="104.05" font-size="7.5" text-anchor="middle" fill="#222" font-weight="normal" >0.0</text>
<text x="669.12" y="104.05" font-size="7.5" text-anchor="middle" fill="#fff" font-weight="normal" >1.1</text>
<text x="570.88" y="128.47" font-size="7.5" text-anchor="middle" fill="#fff" font-weight="normal" >−1.5</text>
<text x="595.44" y="128.47" font-size="7.5" text-anchor="middle" fill="#fff" font-weight="normal" >−1.2</text>
<text x="620.00" y="128.47" font-size="7.5" text-anchor="middle" fill="#fff" font-weight="normal" >−0.8</text>
<text x="644.56" y="128.47" font-size="7.5" text-anchor="middle" fill="#222" font-weight="normal" >−0.3</text>
<text x="669.12" y="128.47" font-size="7.5" text-anchor="middle" fill="#222" font-weight="normal" >0.7</text>
<text x="570.88" y="152.89" font-size="7.5" text-anchor="middle" fill="#fff" font-weight="normal" >−1.8</text>
<text x="595.44" y="152.89" font-size="7.5" text-anchor="middle" fill="#fff" font-weight="normal" >−1.4</text>
<text x="620.00" y="152.89" font-size="7.5" text-anchor="middle" fill="#fff" font-weight="normal" >−1.1</text>
<text x="644.56" y="152.89" font-size="7.5" text-anchor="middle" fill="#222" font-weight="normal" >−0.6</text>
<text x="669.12" y="152.89" font-size="7.5" text-anchor="middle" fill="#222" font-weight="normal" >0.3</text>
<text x="553.20" y="55.20" font-size="7.5" text-anchor="middle" fill="#262626" font-weight="normal" >H</text>
<text x="553.20" y="79.62" font-size="7.5" text-anchor="middle" fill="#262626" font-weight="normal" >E</text>
<text x="553.20" y="104.04" font-size="7.5" text-anchor="middle" fill="#262626" font-weight="normal" >N</text>
<text x="553.20" y="128.46" font-size="7.5" text-anchor="middle" fill="#262626" font-weight="normal" >R</text>
<text x="553.20" y="152.88" font-size="7.5" text-anchor="middle" fill="#262626" font-weight="normal" >L</text>
<text x="570.88" y="171.40" font-size="7.5" text-anchor="middle" fill="#262626" font-weight="normal" >L</text>
<text x="595.44" y="171.40" font-size="7.5" text-anchor="middle" fill="#262626" font-weight="normal" >R</text>
<text x="620.00" y="171.40" font-size="7.5" text-anchor="middle" fill="#262626" font-weight="normal" >N</text>
<text x="644.56" y="171.40" font-size="7.5" text-anchor="middle" fill="#262626" font-weight="normal" >E</text>
<text x="669.12" y="171.40" font-size="7.5" text-anchor="middle" fill="#262626" font-weight="normal" >H</text>
<text x="616.50" y="25.90" font-size="7.8" text-anchor="middle" fill="#262626" font-weight="normal" >log odds across quintile combinations</text>
<defs><linearGradient id="gbw" x1="0" x2="1"><stop offset="0" stop-color="#0000ff"/><stop offset="1" stop-color="#ffffff"/></linearGradient><linearGradient id="gwr" x1="0" x2="1"><stop offset="0" stop-color="#ffffff"/><stop offset="0.35" stop-color="#ff3030"/><stop offset="0.6" stop-color="#e00000"/><stop offset="1" stop-color="#700000"/></linearGradient><linearGradient id="arrh" x1="567" x2="670" y1="0" y2="0" gradientUnits="userSpaceOnUse"><stop offset="0" stop-color="#2a2ae8"/><stop offset="0.5" stop-color="#ffffff"/><stop offset="1" stop-color="#b01c1c"/></linearGradient><linearGradient id="arrv" x1="0" x2="0" y1="41" y2="151" gradientUnits="userSpaceOnUse"><stop offset="0" stop-color="#b01c1c"/><stop offset="0.5" stop-color="#ffffff"/><stop offset="1" stop-color="#2a2ae8"/></linearGradient><linearGradient id="cbar" x1="0" x2="0" y1="1" y2="0"><stop offset="0" stop-color="#0000ff"/><stop offset="0.333" stop-color="#ffffff"/><stop offset="0.5" stop-color="#ff7070"/><stop offset="0.667" stop-color="#ff0000"/><stop offset="1" stop-color="#640000"/></linearGradient></defs>
<text x="556.50" y="36.40" font-size="7.5" text-anchor="middle" fill="#262626" font-weight="normal" >−2</text>
<rect x="561.20" y="31.20" width="15.00" height="5.40" fill="url(#gbw)" />
<rect x="577.70" y="31.20" width="28.60" height="5.40" fill="url(#gwr)" />
<text x="610.20" y="36.40" font-size="7.5" text-anchor="middle" fill="#262626" font-weight="normal" >4</text>
<text x="616.00" y="36.40" font-size="7.75" text-anchor="start" fill="#262626" font-weight="normal" >Pooled Dx log odds</text>
<line x1="545.00" y1="53.50" x2="545.00" y2="142.50" stroke="url(#arrv)" stroke-width="1.6" />
<path d="M545,42.5 L541.5,54 L545,52 L548.5,54 Z" fill="#b01c1c" stroke="none" stroke-width="0.8" />
<path d="M545,151 L541.5,139.5 L545,141.5 L548.5,139.5 Z" fill="#2a2ae8" stroke="none" stroke-width="0.8" />
<text x="536.80" y="101.00" font-size="9.1" text-anchor="middle" fill="#262626" font-weight="normal" transform="rotate(-90 536.8 101)" dy="3">Blood quintiles</text>
<line x1="577.00" y1="177.80" x2="660.00" y2="177.80" stroke="url(#arrh)" stroke-width="1.6" />
<path d="M567.5,177.8 L579,174.3 L577,177.8 L579,181.3 Z" fill="#2a2ae8" stroke="none" stroke-width="0.8" />
<path d="M670,177.8 L658.5,174.3 L660.5,177.8 L658.5,181.3 Z" fill="#b01c1c" stroke="none" stroke-width="0.8" />
<text x="619.70" y="191.40" font-size="9.05" text-anchor="middle" fill="#262626" font-weight="normal" >Psychosocial quintiles</text>
<text x="192.5" y="242.6" font-size="7.4"><tspan fill="#6ab85a">Brain</tspan><tspan fill="#888"> × Psychosocial</tspan></text>
<line x1="196.50" y1="247.00" x2="259.00" y2="247.00" stroke="#80c870" stroke-width="0.9" />
<rect x="197.00" y="255.15" width="30.00" height="7.20" fill="#7fcb6a" />
<rect x="240.00" y="255.15" width="16.30" height="7.20" fill="#c3c3cb" />
<text x="197.40" y="261.45" font-size="7.75" text-anchor="start" fill="#1e1e1e" font-weight="normal" >Multiple sclerosis</text>
<rect x="197.00" y="264.59" width="17.50" height="7.20" fill="#7fcb6a" />
<rect x="240.00" y="264.59" width="12.00" height="7.20" fill="#c3c3cb" />
<text x="197.40" y="270.89" font-size="7.75" text-anchor="start" fill="#1e1e1e" font-weight="normal" >Stroke</text>
<rect x="197.00" y="274.03" width="14.30" height="7.20" fill="#7fcb6a" />
<rect x="240.00" y="274.03" width="30.00" height="7.20" fill="#c3c3cb" />
<text x="197.40" y="280.33" font-size="7.75" text-anchor="start" fill="#1e1e1e" font-weight="normal" >Chronic fatigue synd.</text>
<rect x="197.00" y="283.47" width="14.30" height="7.20" fill="#7fcb6a" />
<rect x="240.00" y="283.47" width="15.00" height="7.20" fill="#c3c3cb" />
<text x="197.40" y="289.77" font-size="7.75" text-anchor="start" fill="#1e1e1e" font-weight="normal" >Cervical spond.</text>
<rect x="197.00" y="292.91" width="13.00" height="7.20" fill="#7fcb6a" />
<rect x="240.00" y="292.91" width="27.50" height="7.20" fill="#c3c3cb" />
<text x="197.40" y="299.21" font-size="7.75" text-anchor="start" fill="#1e1e1e" font-weight="normal" >Fibromyalgia</text>
<text x="189.50" y="277.50" font-size="8.4" text-anchor="middle" fill="#262626" font-weight="normal" transform="rotate(-90 189.5 277.5)" dy="2.9">Diagnosis</text>
<line x1="196.80" y1="304.50" x2="228.80" y2="304.50" stroke="#555" stroke-width="0.8" />
<line x1="196.80" y1="304.50" x2="196.80" y2="307.70" stroke="#555" stroke-width="0.8" />
<line x1="214.30" y1="304.50" x2="214.30" y2="307.70" stroke="#555" stroke-width="0.8" />
<text x="196.80" y="317.70" font-size="7.9" text-anchor="middle" fill="#262626" font-weight="normal" >0</text>
<text x="214.30" y="317.70" font-size="7.9" text-anchor="middle" fill="#262626" font-weight="normal" >1</text>
<line x1="240.20" y1="304.50" x2="271.70" y2="304.50" stroke="#555" stroke-width="0.8" />
<line x1="240.20" y1="304.50" x2="240.20" y2="307.70" stroke="#555" stroke-width="0.8" />
<line x1="253.30" y1="304.50" x2="253.30" y2="307.70" stroke="#555" stroke-width="0.8" />
<text x="240.20" y="317.70" font-size="7.9" text-anchor="middle" fill="#262626" font-weight="normal" >0</text>
<text x="253.30" y="317.70" font-size="7.9" text-anchor="middle" fill="#262626" font-weight="normal" >1</text>
<text x="234.7" y="331.0" font-size="8.7" text-anchor="middle" fill="#262626">Cohen’s <tspan font-style="italic">d</tspan></text>
<text x="234.70" y="341.00" font-size="8.7" text-anchor="middle" fill="#262626" font-weight="normal" >(Dx versus Dx-free)</text>
<rect x="297.00" y="247.30" width="14.08" height="14.04" fill="#fff9f9" />
<rect x="311.08" y="247.30" width="14.08" height="14.04" fill="#ffe6e6" />
<rect x="325.16" y="247.30" width="14.08" height="14.04" fill="#ff8f8f" />
<rect x="339.24" y="247.30" width="14.08" height="14.04" fill="#ff5e5e" />
<rect x="353.32" y="247.30" width="14.08" height="14.04" fill="#cc0000" />
<rect x="297.00" y="261.34" width="14.08" height="14.04" fill="#4e4ef5" />
<rect x="311.08" y="261.34" width="14.08" height="14.04" fill="#7272f7" />
<rect x="325.16" y="261.34" width="14.08" height="14.04" fill="#b1b1fa" />
<rect x="339.24" y="261.34" width="14.08" height="14.04" fill="#e3e3fd" />
<rect x="353.32" y="261.34" width="14.08" height="14.04" fill="#ff2323" />
<rect x="297.00" y="275.38" width="14.08" height="14.04" fill="#0b0bf1" />
<rect x="311.08" y="275.38" width="14.08" height="14.04" fill="#6666f6" />
<rect x="325.16" y="275.38" width="14.08" height="14.04" fill="#aaaafa" />
<rect x="339.24" y="275.38" width="14.08" height="14.04" fill="#b7b7fb" />
<rect x="353.32" y="275.38" width="14.08" height="14.04" fill="#ff8383" />
<rect x="297.00" y="289.42" width="14.08" height="14.04" fill="#1b1bf2" />
<rect x="311.08" y="289.42" width="14.08" height="14.04" fill="#5a5af5" />
<rect x="325.16" y="289.42" width="14.08" height="14.04" fill="#7e7ef7" />
<rect x="339.24" y="289.42" width="14.08" height="14.04" fill="#9d9df9" />
<rect x="353.32" y="289.42" width="14.08" height="14.04" fill="#ff6464" />
<rect x="297.00" y="303.46" width="14.08" height="14.04" fill="#0000f0" />
<rect x="311.08" y="303.46" width="14.08" height="14.04" fill="#2c2cf3" />
<rect x="325.16" y="303.46" width="14.08" height="14.04" fill="#3232f3" />
<rect x="339.24" y="303.46" width="14.08" height="14.04" fill="#7272f7" />
<rect x="353.32" y="303.46" width="14.08" height="14.04" fill="#eeeefe" />
<line x1="311.08" y1="247.30" x2="311.08" y2="317.50" stroke="#fff" stroke-width="0.3" />
<line x1="297.00" y1="261.34" x2="367.40" y2="261.34" stroke="#fff" stroke-width="0.3" />
<line x1="325.16" y1="247.30" x2="325.16" y2="317.50" stroke="#fff" stroke-width="0.3" />
<line x1="297.00" y1="275.38" x2="367.40" y2="275.38" stroke="#fff" stroke-width="0.3" />
<line x1="339.24" y1="247.30" x2="339.24" y2="317.50" stroke="#fff" stroke-width="0.3" />
<line x1="297.00" y1="289.42" x2="367.40" y2="289.42" stroke="#fff" stroke-width="0.3" />
<line x1="353.32" y1="247.30" x2="353.32" y2="317.50" stroke="#fff" stroke-width="0.3" />
<line x1="297.00" y1="303.46" x2="367.40" y2="303.46" stroke="#fff" stroke-width="0.3" />
<text x="291.80" y="257.00" font-size="7.5" text-anchor="middle" fill="#262626" font-weight="normal" >H</text>
<text x="291.80" y="271.04" font-size="7.5" text-anchor="middle" fill="#262626" font-weight="normal" >E</text>
<text x="291.80" y="285.08" font-size="7.5" text-anchor="middle" fill="#262626" font-weight="normal" >N</text>
<text x="291.80" y="299.12" font-size="7.5" text-anchor="middle" fill="#262626" font-weight="normal" >R</text>
<text x="291.80" y="313.16" font-size="7.5" text-anchor="middle" fill="#262626" font-weight="normal" >L</text>
<text x="304.04" y="327.00" font-size="7.5" text-anchor="middle" fill="#262626" font-weight="normal" >L</text>
<text x="318.12" y="327.00" font-size="7.5" text-anchor="middle" fill="#262626" font-weight="normal" >R</text>
<text x="332.20" y="327.00" font-size="7.5" text-anchor="middle" fill="#262626" font-weight="normal" >N</text>
<text x="346.28" y="327.00" font-size="7.5" text-anchor="middle" fill="#262626" font-weight="normal" >E</text>
<text x="360.36" y="327.00" font-size="7.5" text-anchor="middle" fill="#262626" font-weight="normal" >H</text>
<text x="332.00" y="242.40" font-size="7.5" text-anchor="middle" fill="#262626" font-weight="normal" >Pooled Dx log odds</text>
<rect x="370.00" y="247.30" width="7.00" height="70.50" fill="url(#cbar)" />
<line x1="378.20" y1="247.30" x2="378.20" y2="317.80" stroke="#555" stroke-width="0.7" />
<line x1="378.20" y1="247.30" x2="380.20" y2="247.30" stroke="#555" stroke-width="0.7" />
<text x="380.80" y="250.00" font-size="7.5" text-anchor="start" fill="#262626" font-weight="normal" >4</text>
<line x1="378.20" y1="270.80" x2="380.20" y2="270.80" stroke="#555" stroke-width="0.7" />
<text x="380.80" y="273.50" font-size="7.5" text-anchor="start" fill="#262626" font-weight="normal" >2</text>
<line x1="378.20" y1="294.30" x2="380.20" y2="294.30" stroke="#555" stroke-width="0.7" />
<text x="380.80" y="297.00" font-size="7.5" text-anchor="start" fill="#262626" font-weight="normal" >0</text>
<line x1="378.20" y1="317.80" x2="380.20" y2="317.80" stroke="#555" stroke-width="0.7" />
<text x="380.80" y="320.50" font-size="7.5" text-anchor="start" fill="#262626" font-weight="normal" >−2</text>
<text x="453.7" y="242.6" font-size="7.4"><tspan fill="#f08a66">Bone</tspan><tspan fill="#888"> × Psychosocial</tspan></text>
<line x1="458.00" y1="246.60" x2="521.00" y2="246.60" stroke="#f4a080" stroke-width="0.9" />
<rect x="458.90" y="253.50" width="22.80" height="9.40" fill="#f4997a" />
<rect x="502.10" y="253.50" width="13.90" height="9.40" fill="#c3c3cb" />
<text x="459.40" y="261.00" font-size="7.6" text-anchor="start" fill="#1e1e1e" font-weight="normal" >Gout</text>
<rect x="458.90" y="266.00" width="16.60" height="9.40" fill="#f4997a" />
<rect x="502.10" y="266.00" width="24.90" height="9.40" fill="#c3c3cb" />
<text x="459.40" y="273.50" font-size="7.6" text-anchor="start" fill="#1e1e1e" font-weight="normal" >Spinal stenosis</text>
<rect x="458.90" y="278.50" width="15.60" height="9.40" fill="#f4997a" />
<rect x="502.10" y="278.50" width="20.90" height="9.40" fill="#c3c3cb" />
<text x="459.40" y="286.00" font-size="7.6" text-anchor="start" fill="#1e1e1e" font-weight="normal" >Carpal tunnel</text>
<rect x="458.90" y="291.00" width="1.40" height="9.40" fill="#f4997a" />
<rect x="502.10" y="291.00" width="16.40" height="9.40" fill="#c3c3cb" />
<text x="459.40" y="298.50" font-size="7.6" text-anchor="start" fill="#1e1e1e" font-weight="normal" >Osteoporosis</text>
<text x="451.00" y="275.00" font-size="8.4" text-anchor="middle" fill="#262626" font-weight="normal" transform="rotate(-90 451 275)" dy="2.9">Diagnosis</text>
<line x1="458.90" y1="305.40" x2="488.60" y2="305.40" stroke="#555" stroke-width="0.8" />
<line x1="458.90" y1="305.40" x2="458.90" y2="308.60" stroke="#555" stroke-width="0.8" />
<line x1="488.60" y1="305.40" x2="488.60" y2="308.60" stroke="#555" stroke-width="0.8" />
<text x="458.90" y="318.60" font-size="7.9" text-anchor="middle" fill="#262626" font-weight="normal" >0</text>
<text x="488.60" y="318.60" font-size="7.9" text-anchor="middle" fill="#262626" font-weight="normal" >1</text>
<line x1="502.10" y1="305.40" x2="531.70" y2="305.40" stroke="#555" stroke-width="0.8" />
<line x1="502.10" y1="305.40" x2="502.10" y2="308.60" stroke="#555" stroke-width="0.8" />
<line x1="531.70" y1="305.40" x2="531.70" y2="308.60" stroke="#555" stroke-width="0.8" />
<text x="502.10" y="318.60" font-size="7.9" text-anchor="middle" fill="#262626" font-weight="normal" >0</text>
<text x="531.70" y="318.60" font-size="7.9" text-anchor="middle" fill="#262626" font-weight="normal" >1</text>
<text x="494.0" y="331.2" font-size="8.7" text-anchor="middle" fill="#262626">Cohen’s <tspan font-style="italic">d</tspan></text>
<text x="494.00" y="340.80" font-size="8.7" text-anchor="middle" fill="#262626" font-weight="normal" >(Dx versus Dx-free)</text>
<rect x="558.20" y="247.50" width="14.02" height="14.10" fill="#f4f4fe" />
<rect x="572.22" y="247.50" width="14.02" height="14.10" fill="#ffe2e2" />
<rect x="586.24" y="247.50" width="14.02" height="14.10" fill="#ffa2a2" />
<rect x="600.26" y="247.50" width="14.02" height="14.10" fill="#ff9c9c" />
<rect x="614.28" y="247.50" width="14.02" height="14.10" fill="#ff6a6a" />
<rect x="558.20" y="261.60" width="14.02" height="14.10" fill="#aaaafa" />
<rect x="572.22" y="261.60" width="14.02" height="14.10" fill="#ebebfe" />
<rect x="586.24" y="261.60" width="14.02" height="14.10" fill="#e6e6fe" />
<rect x="600.26" y="261.60" width="14.02" height="14.10" fill="#ffd1d1" />
<rect x="614.28" y="261.60" width="14.02" height="14.10" fill="#ff8989" />
<rect x="558.20" y="275.70" width="14.02" height="14.10" fill="#a3a3fa" />
<rect x="572.22" y="275.70" width="14.02" height="14.10" fill="#ebebfe" />
<rect x="586.24" y="275.70" width="14.02" height="14.10" fill="#dedefd" />
<rect x="600.26" y="275.70" width="14.02" height="14.10" fill="#ffe3e3" />
<rect x="614.28" y="275.70" width="14.02" height="14.10" fill="#ffb6b6" />
<rect x="558.20" y="289.80" width="14.02" height="14.10" fill="#8484f8" />
<rect x="572.22" y="289.80" width="14.02" height="14.10" fill="#aaaafa" />
<rect x="586.24" y="289.80" width="14.02" height="14.10" fill="#d3d3fc" />
<rect x="600.26" y="289.80" width="14.02" height="14.10" fill="#f8f8ff" />
<rect x="614.28" y="289.80" width="14.02" height="14.10" fill="#ffc0c0" />
<rect x="558.20" y="303.90" width="14.02" height="14.10" fill="#4343f4" />
<rect x="572.22" y="303.90" width="14.02" height="14.10" fill="#8a8af8" />
<rect x="586.24" y="303.90" width="14.02" height="14.10" fill="#b5b5fb" />
<rect x="600.26" y="303.90" width="14.02" height="14.10" fill="#dbdbfd" />
<rect x="614.28" y="303.90" width="14.02" height="14.10" fill="#ffb6b6" />
<line x1="572.22" y1="247.50" x2="572.22" y2="318.00" stroke="#fff" stroke-width="0.3" />
<line x1="558.20" y1="261.60" x2="628.30" y2="261.60" stroke="#fff" stroke-width="0.3" />
<line x1="586.24" y1="247.50" x2="586.24" y2="318.00" stroke="#fff" stroke-width="0.3" />
<line x1="558.20" y1="275.70" x2="628.30" y2="275.70" stroke="#fff" stroke-width="0.3" />
<line x1="600.26" y1="247.50" x2="600.26" y2="318.00" stroke="#fff" stroke-width="0.3" />
<line x1="558.20" y1="289.80" x2="628.30" y2="289.80" stroke="#fff" stroke-width="0.3" />
<line x1="614.28" y1="247.50" x2="614.28" y2="318.00" stroke="#fff" stroke-width="0.3" />
<line x1="558.20" y1="303.90" x2="628.30" y2="303.90" stroke="#fff" stroke-width="0.3" />
<text x="552.70" y="257.25" font-size="7.5" text-anchor="middle" fill="#262626" font-weight="normal" >H</text>
<text x="552.70" y="271.35" font-size="7.5" text-anchor="middle" fill="#262626" font-weight="normal" >E</text>
<text x="552.70" y="285.45" font-size="7.5" text-anchor="middle" fill="#262626" font-weight="normal" >N</text>
<text x="552.70" y="299.55" font-size="7.5" text-anchor="middle" fill="#262626" font-weight="normal" >R</text>
<text x="552.70" y="313.65" font-size="7.5" text-anchor="middle" fill="#262626" font-weight="normal" >L</text>
<text x="565.21" y="326.20" font-size="7.5" text-anchor="middle" fill="#262626" font-weight="normal" >L</text>
<text x="579.23" y="326.20" font-size="7.5" text-anchor="middle" fill="#262626" font-weight="normal" >R</text>
<text x="593.25" y="326.20" font-size="7.5" text-anchor="middle" fill="#262626" font-weight="normal" >N</text>
<text x="607.27" y="326.20" font-size="7.5" text-anchor="middle" fill="#262626" font-weight="normal" >E</text>
<text x="621.29" y="326.20" font-size="7.5" text-anchor="middle" fill="#262626" font-weight="normal" >H</text>
<text x="592.20" y="242.40" font-size="7.5" text-anchor="middle" fill="#262626" font-weight="normal" >Pooled Dx log odds</text>
<rect x="630.80" y="247.20" width="7.00" height="71.00" fill="url(#cbar)" />
<line x1="639.00" y1="247.20" x2="639.00" y2="318.20" stroke="#555" stroke-width="0.7" />
<line x1="639.00" y1="247.20" x2="641.00" y2="247.20" stroke="#555" stroke-width="0.7" />
<text x="641.60" y="249.90" font-size="7.5" text-anchor="start" fill="#262626" font-weight="normal" >4</text>
<line x1="639.00" y1="270.87" x2="641.00" y2="270.87" stroke="#555" stroke-width="0.7" />
<text x="641.60" y="273.57" font-size="7.5" text-anchor="start" fill="#262626" font-weight="normal" >2</text>
<line x1="639.00" y1="294.53" x2="641.00" y2="294.53" stroke="#555" stroke-width="0.7" />
<text x="641.60" y="297.23" font-size="7.5" text-anchor="start" fill="#262626" font-weight="normal" >0</text>
<line x1="639.00" y1="318.20" x2="641.00" y2="318.20" stroke="#555" stroke-width="0.7" />
<text x="641.60" y="320.90" font-size="7.5" text-anchor="start" fill="#262626" font-weight="normal" >−2</text>
<path d="M4.2,382 V378.2 H182.7 M289,378.2 H468.2 V382" fill="none" stroke="#666" stroke-width="0.9" />
<text x="235.70" y="380.90" font-size="9.1" text-anchor="middle" fill="#262626" font-weight="normal" >Longitudinal analysis</text>
<text x="33.50" y="392.20" font-size="7.3" text-anchor="middle" fill="#262626" font-weight="normal" >Baseline</text>
<text x="33.50" y="401.30" font-size="7.3" text-anchor="middle" fill="#262626" font-weight="normal" >risk</text>
<path d="M3.48,404.10 H10.92 M4.20,404.10 V417.80 Q4.20,421.70 7.20,421.70 Q10.20,421.70 10.20,417.80 V404.10" fill="none" stroke="#1a1a1a" stroke-width="0.9" stroke-linejoin="round"/>
<text x="13.50" y="415.00" font-size="7.6" text-anchor="middle" fill="#444" font-weight="normal" >×</text>
<rect x="18.00" y="405.11" width="11.20" height="15.39" fill="#fff" stroke="#1a1a1a" stroke-width="1.12"/>
<path d="M20.24,405.65 L23.60,403.40 L26.96,405.65 Z" fill="#1a1a1a" stroke="none" stroke-width="0.8" />
<circle cx="20.80" cy="408.02" r="0.94" fill="#111"/>
<line x1="23.04" y1="408.70" x2="27.18" y2="408.70" stroke="#222" stroke-width="0.9405000000000001" />
<line x1="20.02" y1="410.58" x2="27.18" y2="410.58" stroke="#222" stroke-width="0.9405000000000001" />
<line x1="20.02" y1="412.80" x2="27.18" y2="412.80" stroke="#222" stroke-width="0.9405000000000001" />
<line x1="20.02" y1="415.54" x2="27.18" y2="415.54" stroke="#555" stroke-width="0.9405000000000001" />
<line x1="20.02" y1="417.08" x2="27.18" y2="417.08" stroke="#555" stroke-width="0.9405000000000001" />
<line x1="33.00" y1="412.00" x2="142.00" y2="412.00" stroke="#3c4a5e" stroke-width="1.9" />
<path d="M148,412 L136.5,406.2 L139,412 L136.5,417.8 Z" fill="#3c4a5e" stroke="none" stroke-width="0.8" />
<rect x="32.20" y="402.00" width="1.80" height="19.00" fill="#8a8cf0" />
<rect x="134.40" y="402.00" width="1.80" height="19.00" fill="#8a8cf0" />
<text x="83.00" y="400.20" font-size="7.5" text-anchor="middle" fill="#262626" font-weight="normal" >Dx onset:</text>
<text x="83" y="407.8" font-size="7.5" text-anchor="middle" fill="#262626"><tspan font-style="italic">n</tspan> = 1,006</text>
<text x="83.00" y="422.80" font-size="7.2" text-anchor="middle" fill="#262626" font-weight="normal" >−1,336 days</text>
<text x="135.20" y="392.20" font-size="7.6" text-anchor="middle" fill="#262626" font-weight="normal" >4-year</text>
<text x="135.20" y="401.30" font-size="7.9" text-anchor="middle" fill="#262626" font-weight="normal" >follow-up</text>
<text x="23.50" y="445.60" font-size="7.4" text-anchor="middle" fill="#262626" font-weight="normal" >−2</text>
<rect x="31.00" y="440.20" width="13.70" height="5.80" fill="url(#gbw)" />
<rect x="46.00" y="440.20" width="28.50" height="5.80" fill="url(#gwr)" />
<text x="78.00" y="445.60" font-size="7.4" text-anchor="middle" fill="#262626" font-weight="normal" >4</text>
<text x="85.60" y="445.60" font-size="7.5" text-anchor="start" fill="#262626" font-weight="normal" >Dx onset log odds</text>
<rect x="22.80" y="450.70" width="24.54" height="24.40" fill="#ffffff" />
<rect x="47.34" y="450.70" width="24.54" height="24.40" fill="#ffd1d1" />
<rect x="71.88" y="450.70" width="24.54" height="24.40" fill="#ffc3c3" />
<rect x="96.42" y="450.70" width="24.54" height="24.40" fill="#ff5252" />
<rect x="120.96" y="450.70" width="24.54" height="24.40" fill="#d10000" />
<rect x="22.80" y="475.10" width="24.54" height="24.40" fill="#a3a3fa" />
<rect x="47.34" y="475.10" width="24.54" height="24.40" fill="#ccccfc" />
<rect x="71.88" y="475.10" width="24.54" height="24.40" fill="#ffffff" />
<rect x="96.42" y="475.10" width="24.54" height="24.40" fill="#ffffff" />
<rect x="120.96" y="475.10" width="24.54" height="24.40" fill="#ff6a6a" />
<rect x="22.80" y="499.50" width="24.54" height="24.40" fill="#7272f7" />
<rect x="47.34" y="499.50" width="24.54" height="24.40" fill="#9797f9" />
<rect x="71.88" y="499.50" width="24.54" height="24.40" fill="#a3a3fa" />
<rect x="96.42" y="499.50" width="24.54" height="24.40" fill="#dbdbfd" />
<rect x="120.96" y="499.50" width="24.54" height="24.40" fill="#ff8383" />
<rect x="22.80" y="523.90" width="24.54" height="24.40" fill="#7272f7" />
<rect x="47.34" y="523.90" width="24.54" height="24.40" fill="#9797f9" />
<rect x="71.88" y="523.90" width="24.54" height="24.40" fill="#b1b1fa" />
<rect x="96.42" y="523.90" width="24.54" height="24.40" fill="#ffdfdf" />
<rect x="120.96" y="523.90" width="24.54" height="24.40" fill="#ffb6b6" />
<rect x="22.80" y="548.30" width="24.54" height="24.40" fill="#7272f7" />
<rect x="47.34" y="548.30" width="24.54" height="24.40" fill="#a3a3fa" />
<rect x="71.88" y="548.30" width="24.54" height="24.40" fill="#9797f9" />
<rect x="96.42" y="548.30" width="24.54" height="24.40" fill="#dbdbfd" />
<rect x="120.96" y="548.30" width="24.54" height="24.40" fill="#ff9c9c" />
<line x1="47.34" y1="450.70" x2="47.34" y2="572.70" stroke="#fff" stroke-width="0.6" />
<line x1="22.80" y1="475.10" x2="145.50" y2="475.10" stroke="#fff" stroke-width="0.6" />
<line x1="71.88" y1="450.70" x2="71.88" y2="572.70" stroke="#fff" stroke-width="0.6" />
<line x1="22.80" y1="499.50" x2="145.50" y2="499.50" stroke="#fff" stroke-width="0.6" />
<line x1="96.42" y1="450.70" x2="96.42" y2="572.70" stroke="#fff" stroke-width="0.6" />
<line x1="22.80" y1="523.90" x2="145.50" y2="523.90" stroke="#fff" stroke-width="0.6" />
<line x1="120.96" y1="450.70" x2="120.96" y2="572.70" stroke="#fff" stroke-width="0.6" />
<line x1="22.80" y1="548.30" x2="145.50" y2="548.30" stroke="#fff" stroke-width="0.6" />
<text x="35.07" y="465.60" font-size="7.5" text-anchor="middle" fill="#222" font-weight="normal" >0.0</text>
<text x="59.61" y="465.60" font-size="7.5" text-anchor="middle" fill="#222" font-weight="normal" >0.3</text>
<text x="84.15" y="465.60" font-size="7.5" text-anchor="middle" fill="#222" font-weight="normal" >0.4</text>
<text x="108.69" y="465.60" font-size="7.5" text-anchor="middle" fill="#fff" font-weight="normal" >1.3</text>
<text x="133.23" y="465.60" font-size="7.5" text-anchor="middle" fill="#fff" font-weight="normal" >2.4</text>
<text x="35.07" y="490.00" font-size="7.5" text-anchor="middle" fill="#222" font-weight="normal" >−0.6</text>
<text x="59.61" y="490.00" font-size="7.5" text-anchor="middle" fill="#222" font-weight="normal" >−0.3</text>
<text x="84.15" y="490.00" font-size="7.5" text-anchor="middle" fill="#222" font-weight="normal" >0.0</text>
<text x="108.69" y="490.00" font-size="7.5" text-anchor="middle" fill="#222" font-weight="normal" >−0.0</text>
<text x="133.23" y="490.00" font-size="7.5" text-anchor="middle" fill="#fff" font-weight="normal" >1.1</text>
<text x="35.07" y="514.40" font-size="7.5" text-anchor="middle" fill="#fff" font-weight="normal" >−1.0</text>
<text x="59.61" y="514.40" font-size="7.5" text-anchor="middle" fill="#fff" font-weight="normal" >−0.7</text>
<text x="84.15" y="514.40" font-size="7.5" text-anchor="middle" fill="#222" font-weight="normal" >−0.6</text>
<text x="108.69" y="514.40" font-size="7.5" text-anchor="middle" fill="#222" font-weight="normal" >−0.2</text>
<text x="133.23" y="514.40" font-size="7.5" text-anchor="middle" fill="#222" font-weight="normal" >0.9</text>
<text x="35.07" y="538.80" font-size="7.5" text-anchor="middle" fill="#fff" font-weight="normal" >−1.0</text>
<text x="59.61" y="538.80" font-size="7.5" text-anchor="middle" fill="#222" font-weight="normal" >−0.7</text>
<text x="84.15" y="538.80" font-size="7.5" text-anchor="middle" fill="#222" font-weight="normal" >−0.5</text>
<text x="108.69" y="538.80" font-size="7.5" text-anchor="middle" fill="#222" font-weight="normal" >0.2</text>
<text x="133.23" y="538.80" font-size="7.5" text-anchor="middle" fill="#222" font-weight="normal" >0.5</text>
<text x="35.07" y="563.20" font-size="7.5" text-anchor="middle" fill="#fff" font-weight="normal" >−1.0</text>
<text x="59.61" y="563.20" font-size="7.5" text-anchor="middle" fill="#222" font-weight="normal" >−0.6</text>
<text x="84.15" y="563.20" font-size="7.5" text-anchor="middle" fill="#fff" font-weight="normal" >−0.7</text>
<text x="108.69" y="563.20" font-size="7.5" text-anchor="middle" fill="#222" font-weight="normal" >−0.2</text>
<text x="133.23" y="563.20" font-size="7.5" text-anchor="middle" fill="#222" font-weight="normal" >0.7</text>
<text x="16.60" y="465.60" font-size="7.5" text-anchor="middle" fill="#262626" font-weight="normal" >H</text>
<text x="16.60" y="490.00" font-size="7.5" text-anchor="middle" fill="#262626" font-weight="normal" >E</text>
<text x="16.60" y="514.40" font-size="7.5" text-anchor="middle" fill="#262626" font-weight="normal" >N</text>
<text x="16.60" y="538.80" font-size="7.5" text-anchor="middle" fill="#262626" font-weight="normal" >R</text>
<text x="16.60" y="563.20" font-size="7.5" text-anchor="middle" fill="#262626" font-weight="normal" >L</text>
<text x="35.07" y="582.70" font-size="7.5" text-anchor="middle" fill="#262626" font-weight="normal" >L</text>
<text x="59.61" y="582.70" font-size="7.5" text-anchor="middle" fill="#262626" font-weight="normal" >R</text>
<text x="84.15" y="582.70" font-size="7.5" text-anchor="middle" fill="#262626" font-weight="normal" >N</text>
<text x="108.69" y="582.70" font-size="7.5" text-anchor="middle" fill="#262626" font-weight="normal" >E</text>
<text x="133.23" y="582.70" font-size="7.5" text-anchor="middle" fill="#262626" font-weight="normal" >H</text>
<text x="83.70" y="597.90" font-size="9.0" text-anchor="middle" fill="#262626" font-weight="normal" >Baseline psychosocial quintiles</text>
<text x="5.00" y="512.00" font-size="9.05" text-anchor="middle" fill="#262626" font-weight="normal" transform="rotate(-90 5 512)" dy="3.1">Baseline blood quintiles</text>
<text x="239.00" y="397.00" font-size="7.4" text-anchor="middle" fill="#262626" font-weight="normal" >Baseline risk</text>
<path d="M208.66,403.60 H216.34 M209.40,403.60 V417.17 Q209.40,421.20 212.50,421.20 Q215.60,421.20 215.60,417.17 V403.60" fill="none" stroke="#1a1a1a" stroke-width="0.9" stroke-linejoin="round"/>
<text x="218.60" y="414.80" font-size="7.6" text-anchor="middle" fill="#444" font-weight="normal" >×</text>
<rect x="222.80" y="404.99" width="11.80" height="16.11" fill="#fff" stroke="#1a1a1a" stroke-width="1.12"/>
<path d="M225.16,405.53 L228.70,403.20 L232.24,405.53 Z" fill="#1a1a1a" stroke="none" stroke-width="0.8" />
<circle cx="225.75" cy="408.03" r="0.98" fill="#111"/>
<line x1="228.11" y1="408.75" x2="232.48" y2="408.75" stroke="#222" stroke-width="0.9844999999999999" />
<line x1="224.92" y1="410.72" x2="232.48" y2="410.72" stroke="#222" stroke-width="0.9844999999999999" />
<line x1="224.92" y1="413.05" x2="232.48" y2="413.05" stroke="#222" stroke-width="0.9844999999999999" />
<line x1="224.92" y1="415.91" x2="232.48" y2="415.91" stroke="#555" stroke-width="0.9844999999999999" />
<line x1="224.92" y1="417.52" x2="232.48" y2="417.52" stroke="#555" stroke-width="0.9844999999999999" />
<line x1="238.70" y1="411.60" x2="448.00" y2="411.60" stroke="#3c4a5e" stroke-width="1.9" />
<path d="M454,411.6 L442.5,405.8 L445,411.6 L442.5,417.4 Z" fill="#3c4a5e" stroke="none" stroke-width="0.8" />
<rect x="237.80" y="402.60" width="1.90" height="19.00" fill="#8a8cf0" />
<rect x="439.60" y="402.60" width="1.90" height="19.00" fill="#8a8cf0" />
<text x="341.60" y="406.40" font-size="7.6" text-anchor="middle" fill="#262626" font-weight="normal" >Dx incidence: n = 62,807</text>
<text x="439.30" y="397.20" font-size="7.2" text-anchor="middle" fill="#262626" font-weight="normal" >15 years</text>
<text x="196.40" y="450.00" font-size="7.7" text-anchor="start" fill="#262626" font-weight="normal" >Risk quintile</text>
<text x="196.40" y="458.80" font-size="7.8" text-anchor="start" fill="#262626" font-weight="normal" >combinations:</text>
<line x1="196.40" y1="462.20" x2="247.50" y2="462.20" stroke="#666" stroke-width="0.7" />
<circle cx="266.4" cy="451.2" r="11.0" fill="#f7a9a9" stroke="#9a8a8a" stroke-width="0.5"/>
<circle cx="280.3" cy="451.2" r="11.1" fill="#f7a9a9" stroke="#8a8a9a" stroke-width="0.5"/>
<clipPath id="vc266"><circle cx="266.4" cy="451.2" r="11.0"/></clipPath>
<circle cx="280.3" cy="451.2" r="11.1" fill="#b80000" stroke="#555" stroke-width="0.5" clip-path="url(#vc266)"/>
<text x="273.00" y="465.00" font-size="1" text-anchor="start" fill="#262626" font-weight="normal" ></text>
<text x="273.30" y="454.40" font-size="7.6" text-anchor="middle" fill="#f2c8c8" font-weight="normal" >n</text>
<path d="M260.94,444.80 H265.66 M261.40,444.80 V455.33 Q261.40,457.80 263.30,457.80 Q265.20,457.80 265.20,455.33 V444.80" fill="none" stroke="#1a1a1a" stroke-width="0.65" stroke-linejoin="round"/>
<rect x="280.20" y="445.26" width="7.20" height="11.34" fill="none" stroke="#1a1a1a" stroke-width="0.94"/>
<path d="M281.64,445.71 L283.80,444.00 L285.96,445.71 Z" fill="#1a1a1a" stroke="none" stroke-width="0.8" />
<circle cx="282.00" cy="447.40" r="0.69" fill="#111"/>
<line x1="283.44" y1="447.91" x2="286.10" y2="447.91" stroke="#222" stroke-width="0.693" />
<line x1="281.50" y1="449.29" x2="286.10" y2="449.29" stroke="#222" stroke-width="0.693" />
<line x1="281.50" y1="450.93" x2="286.10" y2="450.93" stroke="#222" stroke-width="0.693" />
<line x1="281.50" y1="452.95" x2="286.10" y2="452.95" stroke="#555" stroke-width="0.693" />
<line x1="281.50" y1="454.08" x2="286.10" y2="454.08" stroke="#555" stroke-width="0.693" />
<circle cx="307.2" cy="451.2" r="9.6" fill="#f7a9a9" stroke="#9a8a8a" stroke-width="0.5"/>
<circle cx="323.0" cy="451.2" r="10.7" fill="#cdd0fa" stroke="#8a8a9a" stroke-width="0.5"/>
<clipPath id="vc307"><circle cx="307.2" cy="451.2" r="9.6"/></clipPath>
<circle cx="323.0" cy="451.2" r="10.7" fill="#a6b8f0" stroke="#555" stroke-width="0.5" clip-path="url(#vc307)"/>
<circle cx="350.2" cy="451.2" r="10.5" fill="#cdd0fa" stroke="#9a8a8a" stroke-width="0.5"/>
<circle cx="366.0" cy="451.2" r="9.4" fill="#f7a9a9" stroke="#8a8a9a" stroke-width="0.5"/>
<clipPath id="vc350"><circle cx="350.2" cy="451.2" r="10.5"/></clipPath>
<circle cx="366.0" cy="451.2" r="9.4" fill="#b8b8c8" stroke="#555" stroke-width="0.5" clip-path="url(#vc350)"/>
<circle cx="393.0" cy="451.2" r="11.0" fill="#cdd0fa" stroke="#9a8a8a" stroke-width="0.5"/>
<circle cx="405.8" cy="451.2" r="11.0" fill="#cdd0fa" stroke="#8a8a9a" stroke-width="0.5"/>
<clipPath id="vc393"><circle cx="393.0" cy="451.2" r="11.0"/></clipPath>
<circle cx="405.8" cy="451.2" r="11.0" fill="#00008a" stroke="#555" stroke-width="0.5" clip-path="url(#vc393)"/>
<text x="273.0" y="438.4" font-size="7.0" text-anchor="middle"><tspan fill="#f04848">H</tspan><tspan fill="#444">–</tspan><tspan fill="#f04848">H</tspan></text>
<text x="314.3" y="438.4" font-size="7.0" text-anchor="middle"><tspan fill="#f04848">H</tspan><tspan fill="#444">–</tspan><tspan fill="#8a90f0">L</tspan></text>
<text x="359.3" y="438.4" font-size="7.0" text-anchor="middle"><tspan fill="#8a90f0">L</tspan><tspan fill="#444">–</tspan><tspan fill="#f04848">H</tspan></text>
<text x="399.0" y="438.4" font-size="7.0" text-anchor="middle"><tspan fill="#8a90f0">L</tspan><tspan fill="#444">–</tspan><tspan fill="#8a90f0">L</tspan></text>
<line x1="195.40" y1="475.90" x2="195.40" y2="573.10" stroke="#3a3a3a" stroke-width="0.9" />
<line x1="195.40" y1="573.10" x2="318.00" y2="573.10" stroke="#3a3a3a" stroke-width="0.9" />
<line x1="193.20" y1="569.00" x2="195.40" y2="569.00" stroke="#3a3a3a" stroke-width="0.7" />
<text x="190.50" y="571.70" font-size="7.5" text-anchor="end" fill="#262626" font-weight="normal" >0</text>
<line x1="193.20" y1="540.37" x2="195.40" y2="540.37" stroke="#3a3a3a" stroke-width="0.7" />
<text x="190.50" y="543.07" font-size="7.5" text-anchor="end" fill="#262626" font-weight="normal" >0.1</text>
<line x1="193.20" y1="511.74" x2="195.40" y2="511.74" stroke="#3a3a3a" stroke-width="0.7" />
<text x="190.50" y="514.44" font-size="7.5" text-anchor="end" fill="#262626" font-weight="normal" >0.2</text>
<line x1="193.20" y1="483.11" x2="195.40" y2="483.11" stroke="#3a3a3a" stroke-width="0.7" />
<text x="190.50" y="485.81" font-size="7.5" text-anchor="end" fill="#262626" font-weight="normal" >0.3</text>
<line x1="201.50" y1="573.10" x2="201.50" y2="575.30" stroke="#3a3a3a" stroke-width="0.7" />
<text x="201.50" y="585.80" font-size="7.5" text-anchor="middle" fill="#262626" font-weight="normal" >0</text>
<line x1="238.66" y1="573.10" x2="238.66" y2="575.30" stroke="#3a3a3a" stroke-width="0.7" />
<text x="238.66" y="585.80" font-size="7.5" text-anchor="middle" fill="#262626" font-weight="normal" >5</text>
<line x1="275.83" y1="573.10" x2="275.83" y2="575.30" stroke="#3a3a3a" stroke-width="0.7" />
<text x="275.83" y="585.80" font-size="7.5" text-anchor="middle" fill="#262626" font-weight="normal" >10</text>
<line x1="313.00" y1="573.10" x2="313.00" y2="575.30" stroke="#3a3a3a" stroke-width="0.7" />
<text x="313.00" y="585.80" font-size="7.5" text-anchor="middle" fill="#262626" font-weight="normal" >15</text>
<text x="258.00" y="598.60" font-size="8.55" text-anchor="middle" fill="#262626" font-weight="normal" >Time (years)</text>
<text x="168.50" y="525.00" font-size="9.1" text-anchor="middle" fill="#262626" font-weight="normal" transform="rotate(-90 168.5 525)" dy="3.1">Cumulative event</text>
<path d="M201.50,569.00 L202.82,568.46 L204.56,567.76 L206.64,566.93 L208.96,566.00 L211.41,564.99 L213.92,563.94 L216.38,562.86 L218.70,561.80 L220.94,560.72 L223.20,559.58 L225.49,558.40 L227.79,557.19 L230.10,555.95 L232.41,554.70 L234.71,553.45 L237.00,552.20 L239.28,550.95 L241.55,549.69 L243.83,548.41 L246.10,547.12 L248.37,545.84 L250.65,544.55 L252.92,543.27 L255.20,542.00 L257.50,540.73 L259.81,539.45 L262.14,538.17 L264.46,536.89 L266.77,535.63 L269.06,534.39 L271.30,533.18 L273.50,532.00 L275.68,530.83 L277.86,529.64 L280.03,528.47 L282.16,527.32 L284.24,526.23 L286.23,525.21 L288.13,524.29 L289.90,523.50 L291.52,522.84 L292.99,522.28 L294.35,521.82 L295.63,521.44 L296.88,521.13 L298.13,520.86 L299.43,520.62 L300.80,520.40 L302.32,520.22 L303.98,520.10 L305.71,520.03 L307.43,520.01 L309.07,520.00 L310.54,520.01 L311.78,520.01 L312.70,520.00" fill="none" stroke="#e4e4ec" stroke-width="3.8" stroke-linecap="round" stroke-linejoin="round"/>
<path d="M201.50,569.00 L202.82,568.46 L204.56,567.76 L206.64,566.93 L208.96,566.00 L211.41,564.99 L213.92,563.94 L216.38,562.86 L218.70,561.80 L220.94,560.72 L223.20,559.58 L225.49,558.40 L227.79,557.19 L230.10,555.95 L232.41,554.70 L234.71,553.45 L237.00,552.20 L239.28,550.95 L241.55,549.69 L243.83,548.41 L246.10,547.12 L248.37,545.84 L250.65,544.55 L252.92,543.27 L255.20,542.00 L257.50,540.73 L259.81,539.45 L262.14,538.17 L264.46,536.89 L266.77,535.63 L269.06,534.39 L271.30,533.18 L273.50,532.00 L275.68,530.83 L277.86,529.64 L280.03,528.47 L282.16,527.32 L284.24,526.23 L286.23,525.21 L288.13,524.29 L289.90,523.50 L291.52,522.84 L292.99,522.28 L294.35,521.82 L295.63,521.44 L296.88,521.13 L298.13,520.86 L299.43,520.62 L300.80,520.40 L302.32,520.22 L303.98,520.10 L305.71,520.03 L307.43,520.01 L309.07,520.00 L310.54,520.01 L311.78,520.01 L312.70,520.00" fill="none" stroke="#c0c0cc" stroke-width="1.5" stroke-linejoin="round"/>
<path d="M201.50,569.00 L202.82,568.52 L204.56,567.91 L206.64,567.17 L208.96,566.35 L211.41,565.46 L213.92,564.52 L216.38,563.56 L218.70,562.60 L220.94,561.62 L223.20,560.60 L225.49,559.53 L227.79,558.42 L230.10,557.29 L232.41,556.14 L234.71,554.97 L237.00,553.80 L239.28,552.61 L241.55,551.38 L243.83,550.14 L246.10,548.88 L248.37,547.60 L250.65,546.33 L252.92,545.06 L255.20,543.80 L257.50,542.54 L259.81,541.26 L262.14,539.97 L264.46,538.69 L266.77,537.42 L269.06,536.17 L271.30,534.96 L273.50,533.80 L275.68,532.65 L277.86,531.51 L280.03,530.37 L282.16,529.27 L284.24,528.23 L286.23,527.26 L288.13,526.37 L289.90,525.60 L291.52,524.94 L292.99,524.38 L294.35,523.91 L295.63,523.51 L296.88,523.18 L298.13,522.89 L299.43,522.63 L300.80,522.40 L302.32,522.21 L303.98,522.09 L305.71,522.03 L307.43,522.00 L309.07,522.00 L310.54,522.01 L311.78,522.01 L312.70,522.00" fill="none" stroke="#dde6fa" stroke-width="2.6" stroke-linecap="round" stroke-linejoin="round"/>
<path d="M201.50,569.00 L202.82,568.52 L204.56,567.91 L206.64,567.17 L208.96,566.35 L211.41,565.46 L213.92,564.52 L216.38,563.56 L218.70,562.60 L220.94,561.62 L223.20,560.60 L225.49,559.53 L227.79,558.42 L230.10,557.29 L232.41,556.14 L234.71,554.97 L237.00,553.80 L239.28,552.61 L241.55,551.38 L243.83,550.14 L246.10,548.88 L248.37,547.60 L250.65,546.33 L252.92,545.06 L255.20,543.80 L257.50,542.54 L259.81,541.26 L262.14,539.97 L264.46,538.69 L266.77,537.42 L269.06,536.17 L271.30,534.96 L273.50,533.80 L275.68,532.65 L277.86,531.51 L280.03,530.37 L282.16,529.27 L284.24,528.23 L286.23,527.26 L288.13,526.37 L289.90,525.60 L291.52,524.94 L292.99,524.38 L294.35,523.91 L295.63,523.51 L296.88,523.18 L298.13,522.89 L299.43,522.63 L300.80,522.40 L302.32,522.21 L303.98,522.09 L305.71,522.03 L307.43,522.00 L309.07,522.00 L310.54,522.01 L311.78,522.01 L312.70,522.00" fill="none" stroke="#a8c0f2" stroke-width="1.3" stroke-linejoin="round"/>
<path d="M201.50,569.00 L202.82,568.69 L204.56,568.27 L206.64,567.78 L208.96,567.24 L211.41,566.65 L213.92,566.06 L216.38,565.46 L218.70,564.90 L220.94,564.35 L223.20,563.80 L225.49,563.25 L227.79,562.68 L230.10,562.11 L232.41,561.52 L234.71,560.92 L237.00,560.30 L239.28,559.66 L241.55,559.01 L243.83,558.34 L246.10,557.66 L248.37,556.97 L250.65,556.28 L252.92,555.59 L255.20,554.90 L257.50,554.21 L259.81,553.52 L262.14,552.82 L264.46,552.12 L266.77,551.42 L269.06,550.74 L271.30,550.06 L273.50,549.40 L275.68,548.74 L277.86,548.07 L280.03,547.40 L282.16,546.74 L284.24,546.11 L286.23,545.51 L288.13,544.97 L289.90,544.50 L291.52,544.09 L292.99,543.73 L294.35,543.42 L295.63,543.14 L296.88,542.91 L298.13,542.71 L299.43,542.54 L300.80,542.40 L302.32,542.30 L303.98,542.25 L305.71,542.25 L307.43,542.27 L309.07,542.31 L310.54,542.35 L311.78,542.39 L312.70,542.40" fill="none" stroke="#1a1aa0" stroke-width="1.5" stroke-linejoin="round"/>
<path d="M201.50,569.00 L202.82,567.63 L204.56,565.81 L206.64,563.65 L208.96,561.24 L211.41,558.69 L213.92,556.10 L216.38,553.57 L218.70,551.20 L220.94,548.96 L223.20,546.72 L225.49,544.49 L227.79,542.24 L230.10,539.98 L232.41,537.69 L234.71,535.37 L237.00,533.00 L239.28,530.55 L241.55,528.00 L243.83,525.40 L246.10,522.78 L248.37,520.18 L250.65,517.65 L252.92,515.21 L255.20,512.90 L257.50,510.71 L259.81,508.60 L262.14,506.55 L264.46,504.58 L266.77,502.68 L269.06,500.85 L271.30,499.09 L273.50,497.40 L275.68,495.76 L277.86,494.16 L280.03,492.62 L282.16,491.16 L284.24,489.79 L286.23,488.52 L288.13,487.39 L289.90,486.40 L291.52,485.57 L292.99,484.90 L294.35,484.37 L295.63,483.94 L296.88,483.59 L298.13,483.30 L299.43,483.05 L300.80,482.80 L302.32,482.59 L303.98,482.47 L305.71,482.40 L307.43,482.38 L309.07,482.38 L310.54,482.40 L311.78,482.41 L312.70,482.40" fill="none" stroke="#f2c4c4" stroke-width="3.4" stroke-linecap="round" stroke-linejoin="round"/>
<path d="M201.50,569.00 L202.82,567.63 L204.56,565.81 L206.64,563.65 L208.96,561.24 L211.41,558.69 L213.92,556.10 L216.38,553.57 L218.70,551.20 L220.94,548.96 L223.20,546.72 L225.49,544.49 L227.79,542.24 L230.10,539.98 L232.41,537.69 L234.71,535.37 L237.00,533.00 L239.28,530.55 L241.55,528.00 L243.83,525.40 L246.10,522.78 L248.37,520.18 L250.65,517.65 L252.92,515.21 L255.20,512.90 L257.50,510.71 L259.81,508.60 L262.14,506.55 L264.46,504.58 L266.77,502.68 L269.06,500.85 L271.30,499.09 L273.50,497.40 L275.68,495.76 L277.86,494.16 L280.03,492.62 L282.16,491.16 L284.24,489.79 L286.23,488.52 L288.13,487.39 L289.90,486.40 L291.52,485.57 L292.99,484.90 L294.35,484.37 L295.63,483.94 L296.88,483.59 L298.13,483.30 L299.43,483.05 L300.80,482.80 L302.32,482.59 L303.98,482.47 L305.71,482.40 L307.43,482.38 L309.07,482.38 L310.54,482.40 L311.78,482.41 L312.70,482.40" fill="none" stroke="#c81414" stroke-width="1.6" stroke-linejoin="round"/>
<path d="M299.5,491.5 V516.6 M297.2,491.5 H301.8 M297.2,516.6 H301.8" fill="none" stroke="#333" stroke-width="0.8" />
<path d="M268.2,493.3 L294,504.2" fill="none" stroke="#3c4a6a" stroke-width="0.8" />
<path d="M295.5,504.8 L290.6,504.4 L292.4,501.6 Z" fill="#3c4a6a" stroke="none" stroke-width="0.8" />
<text x="224.0" y="489.6" font-size="7.0" fill="#262626"><tspan font-style="italic">P</tspan> = 2.3 × 10<tspan font-size="4.6" dy="-2.8">−133</tspan></text>
<text x="325.80" y="483.00" font-size="7.6" text-anchor="start" fill="#262626" font-weight="normal" >Pooled diseases: cumulative hazard</text>
<line x1="325.80" y1="487.70" x2="476.00" y2="487.70" stroke="#888" stroke-width="0.8" />
<path d="M345.63,493.20 H352.57 M346.30,493.20 V505.96 Q346.30,509.60 349.10,509.60 Q351.90,509.60 351.90,505.96 V493.20" fill="none" stroke="#1a1a1a" stroke-width="0.8" stroke-linejoin="round"/>
<rect x="356.40" y="494.10" width="10.20" height="15.30" fill="#fff" stroke="#1a1a1a" stroke-width="1.00"/>
<path d="M358.44,494.58 L361.50,492.40 L364.56,494.58 Z" fill="#1a1a1a" stroke="none" stroke-width="0.8" />
<circle cx="358.95" cy="496.99" r="0.94" fill="#111"/>
<line x1="360.99" y1="497.67" x2="364.76" y2="497.67" stroke="#222" stroke-width="0.935" />
<line x1="358.24" y1="499.54" x2="364.76" y2="499.54" stroke="#222" stroke-width="0.935" />
<line x1="358.24" y1="501.75" x2="364.76" y2="501.75" stroke="#222" stroke-width="0.935" />
<line x1="358.24" y1="504.47" x2="364.76" y2="504.47" stroke="#555" stroke-width="0.935" />
<line x1="358.24" y1="506.00" x2="364.76" y2="506.00" stroke="#555" stroke-width="0.935" />
<line x1="325.80" y1="511.80" x2="369.00" y2="511.80" stroke="#c8c8c8" stroke-width="1.2" />
<line x1="381.20" y1="511.80" x2="435.20" y2="511.80" stroke="#c8c8c8" stroke-width="1.2" />
<line x1="445.70" y1="511.80" x2="476.00" y2="511.80" stroke="#c8c8c8" stroke-width="1.2" />
<text x="383.50" y="508.00" font-size="7.6" text-anchor="start" fill="#262626" font-weight="normal" >Hazard ratio</text>
<text x="447.30" y="508.00" font-size="7.6" text-anchor="start" fill="#262626" font-weight="normal" >n</text>
<line x1="327.50" y1="519.40" x2="341.70" y2="519.40" stroke="#b40000" stroke-width="1.7" />
<text x="346.4" y="522.10" font-size="7.4"><tspan fill="#f04848">H</tspan><tspan fill="#777"> - </tspan><tspan fill="#f04848">H</tspan></text>
<text x="386.60" y="522.10" font-size="7.75" text-anchor="start" fill="#262626" font-weight="normal" >2.26**± 0.06</text>
<text x="448.50" y="522.10" font-size="7.75" text-anchor="start" fill="#262626" font-weight="normal" >20,991</text>
<line x1="327.50" y1="535.13" x2="341.70" y2="535.13" stroke="#a8c4f8" stroke-width="1.7" />
<text x="346.4" y="537.83" font-size="7.4"><tspan fill="#f04848">H</tspan><tspan fill="#777"> - </tspan><tspan fill="#8a90f0">L</tspan></text>
<text x="386.60" y="537.83" font-size="7.75" text-anchor="start" fill="#262626" font-weight="normal" >1.06*± 0.05</text>
<text x="448.50" y="537.83" font-size="7.75" text-anchor="start" fill="#262626" font-weight="normal" >7,940</text>
<line x1="327.50" y1="550.86" x2="341.70" y2="550.86" stroke="#c0c0cc" stroke-width="1.7" />
<text x="346.4" y="553.56" font-size="7.4"><tspan fill="#8a90f0">L</tspan><tspan fill="#777"> - </tspan><tspan fill="#f04848">H</tspan></text>
<text x="386.60" y="553.56" font-size="7.75" text-anchor="start" fill="#262626" font-weight="normal" >1.05± 0.06</text>
<text x="448.50" y="553.56" font-size="7.75" text-anchor="start" fill="#262626" font-weight="normal" >8,903</text>
<line x1="327.50" y1="566.59" x2="341.70" y2="566.59" stroke="#000090" stroke-width="1.7" />
<text x="346.4" y="569.29" font-size="7.4"><tspan fill="#8a90f0">L</tspan><tspan fill="#777"> - </tspan><tspan fill="#8a90f0">L</tspan></text>
<text x="386.60" y="569.29" font-size="7.75" text-anchor="start" fill="#262626" font-weight="normal" >0.54**± 0.02</text>
<text x="448.50" y="569.29" font-size="7.75" text-anchor="start" fill="#262626" font-weight="normal" >26,237</text>
<line x1="325.80" y1="573.20" x2="476.00" y2="573.20" stroke="#aaa" stroke-width="0.8" />
<text x="327.50" y="582.80" font-size="7.45" text-anchor="start" fill="#262626" font-weight="normal" >**P &lt; 0.001, *P &lt; 0.05</text>
<path d="M499,381.5 V377.8 H508.2 M664.5,377.8 H674 V381.5" fill="none" stroke="#555" stroke-width="0.8" />
<text x="586.60" y="380.40" font-size="8.7" text-anchor="middle" fill="#262626" font-weight="normal" >Number of pain sites × individual Dx risk</text>
<rect x="505.00" y="393.20" width="59.90" height="5.40" fill="#c3c3cb" />
<rect x="505.00" y="399.20" width="12.40" height="5.40" fill="#a0bcf0" />
<text x="520.30" y="404.60" font-size="7.7" text-anchor="start" fill="#1e1e1e" font-weight="normal" >Ankylosing spondylitis</text>
<rect x="505.00" y="407.18" width="55.00" height="5.40" fill="#c3c3cb" />
<rect x="505.00" y="413.18" width="11.50" height="5.40" fill="#a0bcf0" />
<text x="519.50" y="418.58" font-size="7.7" text-anchor="start" fill="#1e1e1e" font-weight="normal" >Psoriatic arthropathy</text>
<rect x="505.00" y="421.16" width="45.90" height="5.40" fill="#c3c3cb" />
<rect x="505.00" y="427.16" width="9.70" height="5.40" fill="#a0bcf0" />
<text x="516.80" y="432.56" font-size="7.7" text-anchor="start" fill="#1e1e1e" font-weight="normal" >RA</text>
<rect x="505.00" y="435.14" width="42.00" height="5.40" fill="#c3c3cb" />
<rect x="505.00" y="441.14" width="10.40" height="5.40" fill="#a0bcf0" />
<text x="517.70" y="446.54" font-size="7.7" text-anchor="start" fill="#1e1e1e" font-weight="normal" >Arthritis</text>
<rect x="505.00" y="449.12" width="41.50" height="5.40" fill="#c3c3cb" />
<rect x="505.00" y="455.12" width="7.00" height="5.40" fill="#a0bcf0" />
<text x="513.70" y="460.52" font-size="7.7" text-anchor="start" fill="#1e1e1e" font-weight="normal" >Peripheral neuropathy</text>
<rect x="505.00" y="463.10" width="40.30" height="5.40" fill="#c3c3cb" />
<rect x="505.00" y="469.10" width="9.60" height="5.40" fill="#a0bcf0" />
<text x="516.80" y="474.50" font-size="7.7" text-anchor="start" fill="#1e1e1e" font-weight="normal" >Polymyalgia rheumatica</text>
<rect x="505.00" y="477.08" width="39.40" height="5.40" fill="#c3c3cb" />
<rect x="505.00" y="483.08" width="9.70" height="5.40" fill="#a0bcf0" />
<text x="516.80" y="488.48" font-size="7.7" text-anchor="start" fill="#1e1e1e" font-weight="normal" >Carpal tunnel synd.</text>
<rect x="505.00" y="491.06" width="36.70" height="5.40" fill="#c3c3cb" />
<rect x="505.00" y="497.06" width="1.50" height="5.40" fill="#a0bcf0" />
<text x="507.50" y="502.46" font-size="7.7" text-anchor="start" fill="#1e1e1e" font-weight="normal" >Crohns disease</text>
<rect x="505.00" y="505.04" width="34.70" height="5.40" fill="#c3c3cb" />
<rect x="505.00" y="511.04" width="9.10" height="5.40" fill="#a0bcf0" />
<text x="516.50" y="516.44" font-size="7.7" text-anchor="start" fill="#1e1e1e" font-weight="normal" >Pulmonary embolism</text>
<rect x="505.00" y="519.02" width="34.30" height="5.40" fill="#c3c3cb" />
<rect x="505.00" y="525.02" width="6.70" height="5.40" fill="#a0bcf0" />
<text x="513.10" y="530.42" font-size="7.7" text-anchor="start" fill="#1e1e1e" font-weight="normal" >Stroke</text>
<rect x="505.00" y="533.00" width="32.90" height="5.40" fill="#c3c3cb" />
<rect x="505.00" y="539.00" width="6.10" height="5.40" fill="#a0bcf0" />
<text x="513.00" y="544.40" font-size="7.7" text-anchor="start" fill="#1e1e1e" font-weight="normal" >Angina</text>
<rect x="505.00" y="546.98" width="31.20" height="5.40" fill="#c3c3cb" />
<rect x="505.00" y="552.98" width="6.00" height="5.40" fill="#a0bcf0" />
<text x="512.50" y="558.38" font-size="7.7" text-anchor="start" fill="#1e1e1e" font-weight="normal" >Ulcerative colitis</text>
<rect x="505.00" y="560.96" width="27.60" height="5.40" fill="#c3c3cb" />
<rect x="505.00" y="566.96" width="6.00" height="5.40" fill="#a0bcf0" />
<text x="512.50" y="572.36" font-size="7.7" text-anchor="start" fill="#1e1e1e" font-weight="normal" >Gout</text>
<line x1="505.00" y1="573.00" x2="572.50" y2="573.00" stroke="#555" stroke-width="0.7" />
<line x1="505.00" y1="572.70" x2="505.00" y2="575.40" stroke="#555" stroke-width="0.7" />
<text x="505.00" y="584.30" font-size="7.5" text-anchor="middle" fill="#262626" font-weight="normal" >0</text>
<line x1="538.75" y1="572.70" x2="538.75" y2="575.40" stroke="#555" stroke-width="0.7" />
<text x="538.75" y="584.30" font-size="7.5" text-anchor="middle" fill="#262626" font-weight="normal" >0.15</text>
<line x1="572.50" y1="572.70" x2="572.50" y2="575.40" stroke="#555" stroke-width="0.7" />
<text x="572.50" y="584.30" font-size="7.5" text-anchor="middle" fill="#262626" font-weight="normal" >0.30</text>
<text x="538.75" y="597.20" font-size="8.3" text-anchor="middle" fill="#262626"><tspan font-style="italic">R</tspan><tspan font-size="5.4" dy="-3.2">2</tspan></text>
<rect x="601.10" y="392.90" width="27.90" height="6.00" fill="#c3c3cb" />
<rect x="601.10" y="399.30" width="1.20" height="5.60" fill="#f4997a" />
<text x="603.90" y="404.90" font-size="7.6" text-anchor="start" fill="#1e1e1e" font-weight="normal" >Spinal stenosis</text>
<rect x="601.10" y="407.80" width="26.50" height="6.00" fill="#c3c3cb" />
<rect x="601.10" y="414.20" width="7.90" height="5.60" fill="#f4997a" />
<text x="609.70" y="419.80" font-size="7.6" text-anchor="start" fill="#1e1e1e" font-weight="normal" >Carpal tunnel synd.</text>
<rect x="601.10" y="422.70" width="18.40" height="6.00" fill="#c3c3cb" />
<rect x="601.10" y="429.10" width="5.90" height="5.60" fill="#f4997a" />
<text x="609.70" y="434.70" font-size="7.6" text-anchor="start" fill="#1e1e1e" font-weight="normal" >Gout</text>
<rect x="601.10" y="437.60" width="17.80" height="6.00" fill="#c3c3cb" />
<rect x="601.10" y="444.00" width="5.00" height="5.60" fill="#f4997a" />
<text x="608.20" y="449.60" font-size="7.6" text-anchor="start" fill="#1e1e1e" font-weight="normal" >Osteoporosis</text>
<line x1="601.10" y1="450.10" x2="668.50" y2="450.10" stroke="#555" stroke-width="0.7" />
<line x1="601.10" y1="449.80" x2="601.10" y2="452.50" stroke="#555" stroke-width="0.7" />
<text x="601.10" y="461.40" font-size="7.5" text-anchor="middle" fill="#262626" font-weight="normal" >0</text>
<line x1="634.80" y1="449.80" x2="634.80" y2="452.50" stroke="#555" stroke-width="0.7" />
<text x="634.80" y="461.40" font-size="7.5" text-anchor="middle" fill="#262626" font-weight="normal" >0.15</text>
<line x1="668.50" y1="449.80" x2="668.50" y2="452.50" stroke="#555" stroke-width="0.7" />
<text x="668.50" y="461.40" font-size="7.5" text-anchor="middle" fill="#262626" font-weight="normal" >0.30</text>
<text x="634.80" y="474.30" font-size="8.3" text-anchor="middle" fill="#262626"><tspan font-style="italic">R</tspan><tspan font-size="5.4" dy="-3.2">2</tspan></text>
<rect x="600.90" y="478.70" width="46.10" height="6.10" fill="#c3c3cb" />
<rect x="600.90" y="485.10" width="4.40" height="5.60" fill="#7fcb6a" />
<text x="607.00" y="490.70" font-size="7.6" text-anchor="start" fill="#1e1e1e" font-weight="normal" >Chronic fatigue synd.</text>
<rect x="600.90" y="492.70" width="35.90" height="6.10" fill="#c3c3cb" />
<rect x="600.90" y="499.10" width="0.70" height="5.60" fill="#7fcb6a" />
<text x="602.40" y="504.70" font-size="7.6" text-anchor="start" fill="#1e1e1e" font-weight="normal" >Multiple sclerosis</text>
<rect x="600.90" y="506.70" width="32.00" height="6.10" fill="#c3c3cb" />
<rect x="600.90" y="513.10" width="2.60" height="5.60" fill="#7fcb6a" />
<text x="604.80" y="518.70" font-size="7.6" text-anchor="start" fill="#1e1e1e" font-weight="normal" >Fibromyalgia</text>
<rect x="600.90" y="520.70" width="27.20" height="6.10" fill="#c3c3cb" />
<rect x="600.90" y="527.10" width="0.40" height="5.60" fill="#7fcb6a" />
<text x="602.40" y="532.70" font-size="7.6" text-anchor="start" fill="#1e1e1e" font-weight="normal" >Cervical spondylosis</text>
<rect x="600.90" y="534.70" width="24.40" height="6.10" fill="#c3c3cb" />
<rect x="600.90" y="541.10" width="0.40" height="5.60" fill="#7fcb6a" />
<text x="602.40" y="546.70" font-size="7.6" text-anchor="start" fill="#1e1e1e" font-weight="normal" >Stroke</text>
<line x1="600.90" y1="548.90" x2="668.40" y2="548.90" stroke="#555" stroke-width="0.7" />
<line x1="600.90" y1="548.60" x2="600.90" y2="551.30" stroke="#555" stroke-width="0.7" />
<text x="600.90" y="560.20" font-size="7.5" text-anchor="middle" fill="#262626" font-weight="normal" >0</text>
<line x1="634.65" y1="548.60" x2="634.65" y2="551.30" stroke="#555" stroke-width="0.7" />
<text x="634.65" y="560.20" font-size="7.5" text-anchor="middle" fill="#262626" font-weight="normal" >0.15</text>
<line x1="668.40" y1="548.60" x2="668.40" y2="551.30" stroke="#555" stroke-width="0.7" />
<text x="668.40" y="560.20" font-size="7.5" text-anchor="middle" fill="#262626" font-weight="normal" >0.30</text>
<text x="634.65" y="573.10" font-size="8.3" text-anchor="middle" fill="#262626"><tspan font-style="italic">R</tspan><tspan font-size="5.4" dy="-3.2">2</tspan></text>
<rect x="591.40" y="581.50" width="7.40" height="7.40" fill="#a8c4f6" />
<text x="602.20" y="587.90" font-size="7.5" text-anchor="start" fill="#262626" font-weight="normal" >Blood</text>
<rect x="629.20" y="581.50" width="7.40" height="7.40" fill="#f4997a" />
<text x="640.00" y="587.90" font-size="7.5" text-anchor="start" fill="#262626" font-weight="normal" >Bone</text>
<rect x="591.40" y="592.70" width="7.40" height="7.40" fill="#7cc866" />
<text x="602.20" y="599.10" font-size="7.5" text-anchor="start" fill="#262626" font-weight="normal" >Brain</text>
<rect x="629.20" y="592.70" width="7.40" height="7.40" fill="#a6a6a6" />
<text x="640.00" y="599.10" font-size="7.5" text-anchor="start" fill="#262626" font-weight="normal" >Psychosocial</text>
</svg></body></html>
